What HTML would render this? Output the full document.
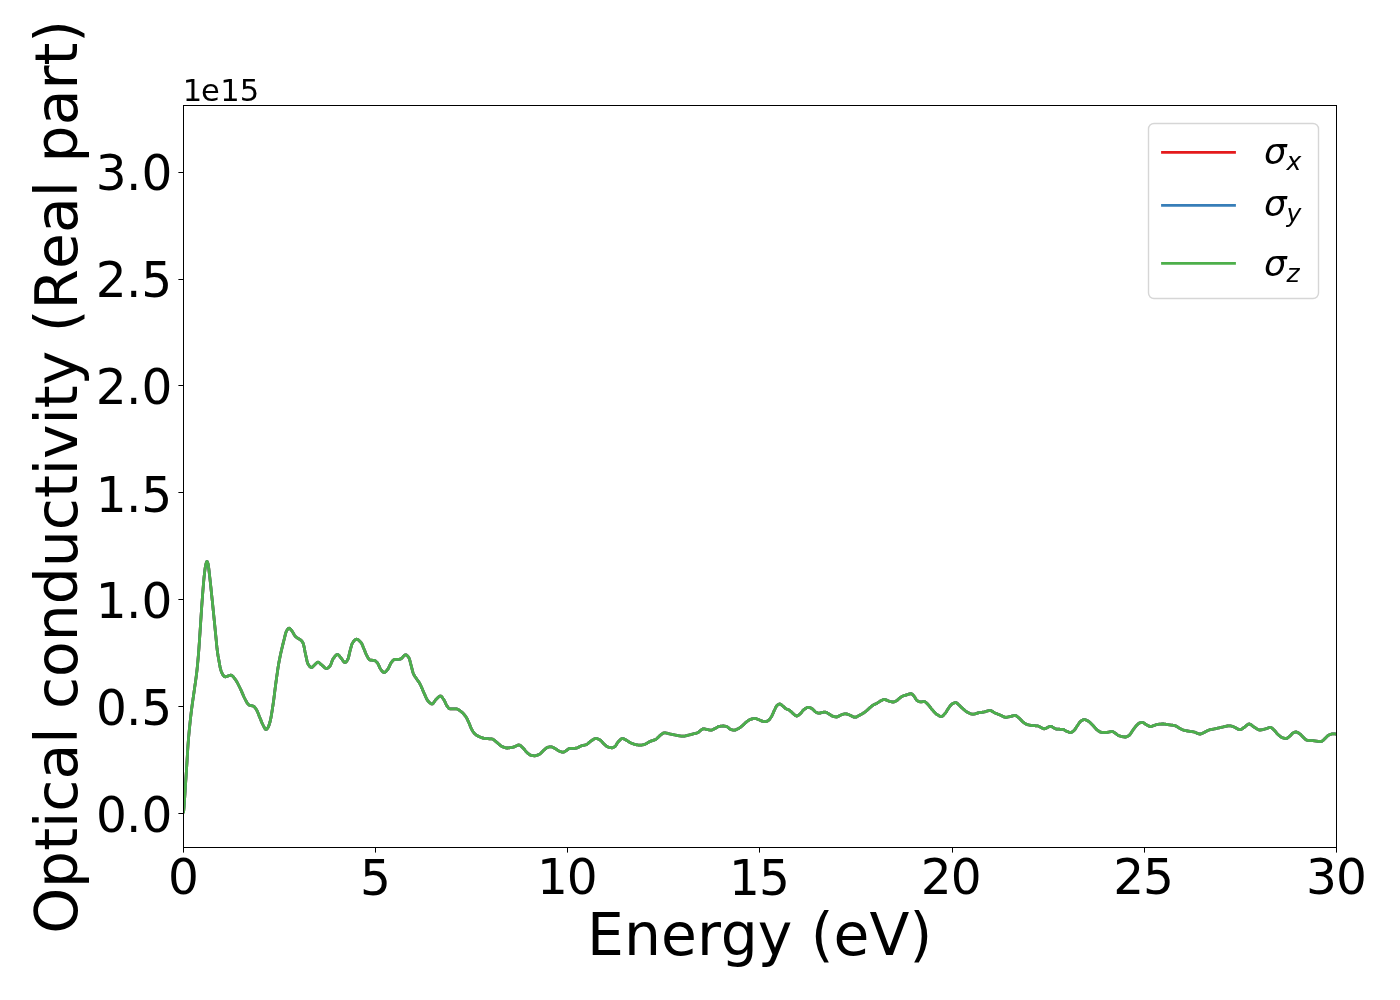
<!DOCTYPE html>
<html lang="en"><head><meta charset="utf-8"><title>Optical conductivity (Real part)</title>
<style>
html,body{margin:0;padding:0;background:#fff;}
body{width:1400px;height:1000px;overflow:hidden;}
svg{display:block;will-change:transform;}
text{font-family:"DejaVu Sans","Liberation Sans",sans-serif;fill:#000;font-kerning:none;white-space:pre;}
.tick{font-size:48.61px;}
.lab{font-size:58.33px;}
.off{font-size:30.56px;}
.leg{font-size:34.72px;font-style:italic;}
.sub{font-size:24.31px;font-style:italic;}
</style></head><body>
<svg width="1400" height="1000" viewBox="0 0 1400 1000">
<rect x="0" y="0" width="1400" height="1000" fill="#ffffff"/>
<defs><clipPath id="ax"><rect x="183.5" y="105.5" width="1153.0" height="742.0"/></clipPath></defs>
<g clip-path="url(#ax)" fill="none" stroke-width="2.78" stroke-linejoin="round" stroke-linecap="butt">
<path d="M183.5,813.0L184.0,807.5L184.5,800.8L185.0,793.0L185.5,785.0L186.0,777.4L186.5,769.7L187.0,761.7L187.5,752.9L188.0,745.0L188.5,738.7L189.0,733.1L189.5,728.0L190.0,723.1L190.5,718.4L191.0,714.1L191.5,710.0L192.0,706.2L192.5,702.5L193.0,699.1L193.5,695.6L194.0,692.2L194.5,688.6L195.0,685.1L195.5,681.6L196.0,678.1L196.5,674.2L197.0,670.0L197.5,665.2L198.0,659.7L198.5,653.8L199.0,647.3L199.5,640.0L200.0,632.6L200.5,624.9L201.0,617.3L201.5,609.8L202.0,602.7L202.5,596.0L203.0,589.5L203.5,583.3L204.0,577.8L204.5,573.3L205.0,569.2L205.5,565.8L206.0,563.7L206.5,562.1L207.0,561.4L207.5,562.1L208.0,563.6L208.5,566.2L209.0,570.5L209.5,575.0L210.0,579.3L210.5,583.9L211.0,588.5L211.5,593.3L212.0,598.1L212.5,602.9L213.0,607.8L213.5,612.8L214.0,617.8L214.5,622.8L215.0,627.9L215.5,633.0L216.0,638.0L216.5,643.1L217.0,648.3L217.5,652.2L218.0,655.5L218.5,658.3L219.0,661.1L219.5,664.0L220.0,666.6L220.5,668.9L221.0,670.6L221.5,672.0L222.0,673.2L222.5,674.2L223.0,675.0L223.5,675.6L224.0,676.2L224.5,676.6L225.0,676.8L225.5,676.8L226.0,676.7L226.5,676.5L227.0,676.3L227.5,676.2L228.0,676.0L228.5,675.8L229.0,675.7L229.5,675.5L230.0,675.3L230.5,675.2L231.0,675.2L231.5,675.3L232.0,675.6L232.5,676.0L233.0,676.5L233.5,677.1L234.0,677.7L234.5,678.4L235.0,679.0L235.5,679.7L236.0,680.4L236.5,681.2L237.0,682.1L237.5,683.0L238.0,684.0L238.5,685.0L239.0,686.0L239.5,687.0L240.0,688.0L240.5,689.0L241.0,690.1L241.5,691.2L242.0,692.4L242.5,693.6L243.0,694.7L243.5,695.9L244.0,697.0L244.5,698.0L245.0,699.0L245.5,700.0L246.0,700.9L246.5,701.8L247.0,702.7L247.5,703.4L248.0,704.0L248.5,704.5L249.0,704.9L249.5,705.3L250.0,705.5L250.5,705.6L251.0,705.7L251.5,705.7L252.0,705.8L252.5,705.9L253.0,706.0L253.5,706.2L254.0,706.6L254.5,707.1L255.0,707.7L255.5,708.3L256.0,709.0L256.5,709.8L257.0,710.7L257.5,711.8L258.0,713.0L258.5,714.3L259.0,715.6L259.5,716.8L260.0,718.0L260.5,719.2L261.0,720.4L261.5,721.7L262.0,722.9L262.5,724.0L263.0,725.0L263.5,726.0L264.0,727.0L264.5,727.9L265.0,728.7L265.5,729.3L266.0,729.5L266.5,729.3L267.0,728.9L267.5,728.2L268.0,727.5L268.5,726.6L269.0,725.3L269.5,723.7L270.0,722.0L270.5,719.9L271.0,717.4L271.5,714.6L272.0,711.5L272.5,708.3L273.0,705.0L273.5,701.5L274.0,697.7L274.5,693.7L275.0,689.7L275.5,685.7L276.0,682.0L276.5,678.4L277.0,674.9L277.5,671.4L278.0,668.0L278.5,664.9L279.0,662.0L279.5,659.4L280.0,656.9L280.5,654.5L281.0,652.3L281.5,650.1L282.0,648.0L282.5,645.9L283.0,643.9L283.5,641.9L284.0,640.0L284.5,638.0L285.0,635.9L285.5,633.9L286.0,632.2L286.5,631.0L287.0,630.2L287.5,629.4L288.0,628.8L288.5,628.4L289.0,628.2L289.5,628.3L290.0,628.7L290.5,629.2L291.0,629.7L291.5,630.4L292.0,631.0L292.5,631.7L293.0,632.6L293.5,633.5L294.0,634.5L294.5,635.3L295.0,636.0L295.5,636.5L296.0,637.0L296.5,637.4L297.0,637.7L297.5,638.1L298.0,638.4L298.5,638.7L299.0,638.9L299.5,639.2L300.0,639.5L300.5,639.9L301.0,640.3L301.5,640.8L302.0,641.4L302.5,642.1L303.0,643.0L303.5,644.4L304.0,646.5L304.5,649.1L305.0,651.7L305.5,654.0L306.0,656.2L306.5,658.6L307.0,660.9L307.5,662.8L308.0,664.0L308.5,664.8L309.0,665.5L309.5,666.2L310.0,666.7L310.5,667.1L311.0,667.4L311.5,667.5L312.0,667.4L312.5,667.1L313.0,666.6L313.5,666.1L314.0,665.5L314.5,665.0L315.0,664.5L315.5,664.0L316.0,663.5L316.5,663.0L317.0,662.6L317.5,662.3L318.0,662.2L318.5,662.3L319.0,662.6L319.5,663.0L320.0,663.4L320.5,663.9L321.0,664.4L321.5,664.8L322.0,665.2L322.5,665.7L323.0,666.1L323.5,666.6L324.0,667.1L324.5,667.6L325.0,667.9L325.5,668.2L326.0,668.4L326.5,668.5L327.0,668.4L327.5,668.2L328.0,667.9L328.5,667.5L329.0,667.1L329.5,666.5L330.0,666.0L330.5,665.2L331.0,664.0L331.5,662.6L332.0,661.2L332.5,659.9L333.0,659.0L333.5,658.3L334.0,657.6L334.5,656.9L335.0,656.2L335.5,655.7L336.0,655.2L336.5,654.8L337.0,654.6L337.5,654.5L338.0,654.6L338.5,655.0L339.0,655.5L339.5,656.1L340.0,656.8L340.5,657.4L341.0,658.0L341.5,658.6L342.0,659.3L342.5,660.0L343.0,660.8L343.5,661.4L344.0,662.0L344.5,662.4L345.0,662.5L345.5,662.4L346.0,662.0L346.5,661.5L347.0,660.7L347.5,659.9L348.0,659.0L348.5,657.6L349.0,655.4L349.5,653.1L350.0,651.0L350.5,649.1L351.0,647.3L351.5,645.5L352.0,644.0L352.5,643.0L353.0,642.3L353.5,641.5L354.0,640.9L354.5,640.3L355.0,639.9L355.5,639.5L356.0,639.3L356.5,639.2L357.0,639.3L357.5,639.4L358.0,639.7L358.5,640.0L359.0,640.4L359.5,640.9L360.0,641.4L360.5,641.9L361.0,642.5L361.5,643.2L362.0,644.2L362.5,645.3L363.0,646.6L363.5,647.8L364.0,649.0L364.5,650.2L365.0,651.4L365.5,652.7L366.0,653.9L366.5,655.0L367.0,656.0L367.5,656.9L368.0,657.7L368.5,658.6L369.0,659.2L369.5,659.7L370.0,660.0L370.5,660.1L371.0,660.2L371.5,660.2L372.0,660.2L372.5,660.3L373.0,660.3L373.5,660.3L374.0,660.4L374.5,660.5L375.0,660.7L375.5,661.0L376.0,661.4L376.5,661.9L377.0,662.4L377.5,663.0L378.0,663.8L378.5,664.8L379.0,665.9L379.5,667.1L380.0,668.2L380.5,669.0L381.0,669.7L381.5,670.4L382.0,671.0L382.5,671.6L383.0,672.1L383.5,672.4L384.0,672.5L384.5,672.4L385.0,672.2L385.5,671.8L386.0,671.4L386.5,670.8L387.0,670.2L387.5,669.6L388.0,669.0L388.5,668.2L389.0,667.2L389.5,666.0L390.0,664.9L390.5,663.8L391.0,663.0L391.5,662.3L392.0,661.6L392.5,661.0L393.0,660.4L393.5,660.0L394.0,659.7L394.5,659.5L395.0,659.5L395.5,659.4L396.0,659.4L396.5,659.4L397.0,659.4L397.5,659.3L398.0,659.3L398.5,659.3L399.0,659.3L399.5,659.2L400.0,659.2L400.5,659.1L401.0,658.8L401.5,658.4L402.0,657.9L402.5,657.4L403.0,656.8L403.5,656.3L404.0,655.8L404.5,655.3L405.0,655.0L405.5,654.8L406.0,654.8L406.5,655.0L407.0,655.4L407.5,655.9L408.0,656.5L408.5,657.2L409.0,658.0L409.5,659.2L410.0,661.0L410.5,663.1L411.0,665.0L411.5,666.9L412.0,668.9L412.5,670.9L413.0,672.6L413.5,674.0L414.0,675.0L414.5,675.8L415.0,676.6L415.5,677.3L416.0,678.0L416.5,678.8L417.0,679.5L417.5,680.2L418.0,680.9L418.5,681.6L419.0,682.3L419.5,683.1L420.0,684.0L420.5,685.0L421.0,686.0L421.5,687.2L422.0,688.3L422.5,689.5L423.0,690.7L423.5,691.9L424.0,693.0L424.5,694.1L425.0,695.2L425.5,696.4L426.0,697.5L426.5,698.6L427.0,699.5L427.5,700.4L428.0,701.0L428.5,701.5L429.0,702.1L429.5,702.6L430.0,703.0L430.5,703.4L431.0,703.7L431.5,703.9L432.0,704.0L432.5,703.9L433.0,703.5L433.5,702.9L434.0,702.2L434.5,701.5L435.0,700.7L435.5,700.0L436.0,699.5L436.5,699.0L437.0,698.5L437.5,698.0L438.0,697.5L438.5,697.0L439.0,696.6L439.5,696.3L440.0,696.1L440.5,696.0L441.0,696.1L441.5,696.5L442.0,697.0L442.5,697.7L443.0,698.5L443.5,699.2L444.0,700.0L444.5,700.9L445.0,701.9L445.5,703.1L446.0,704.2L446.5,705.2L447.0,706.0L447.5,706.6L448.0,707.3L448.5,707.9L449.0,708.4L449.5,708.7L450.0,708.8L450.5,708.8L451.0,708.8L451.5,708.8L452.0,708.8L452.5,708.8L453.0,708.8L453.5,708.8L454.0,708.8L454.5,708.8L455.0,708.8L455.5,708.8L456.0,708.8L456.5,708.8L457.0,709.0L457.5,709.2L458.0,709.4L458.5,709.7L459.0,710.0L459.5,710.4L460.0,710.8L460.5,711.1L461.0,711.5L461.5,711.9L462.0,712.3L462.5,712.8L463.0,713.3L463.5,713.8L464.0,714.4L464.5,715.0L465.0,715.6L465.5,716.3L466.0,717.0L466.5,717.8L467.0,718.7L467.5,719.7L468.0,720.8L468.5,721.9L469.0,723.0L469.5,724.1L470.0,725.4L470.5,726.7L471.0,727.9L471.5,729.0L472.0,730.0L472.5,730.8L473.0,731.6L473.5,732.3L474.0,733.0L474.5,733.5L475.0,734.0L475.5,734.4L476.0,734.8L476.5,735.2L477.0,735.5L477.5,735.8L478.0,736.1L478.5,736.3L479.0,736.6L479.5,736.8L480.0,737.0L480.5,737.2L481.0,737.4L481.5,737.6L482.0,737.8L482.5,737.9L483.0,738.1L483.5,738.2L484.0,738.3L484.5,738.4L485.0,738.5L485.5,738.6L486.0,738.6L486.5,738.6L487.0,738.7L487.5,738.7L488.0,738.7L488.5,738.7L489.0,738.8L489.5,738.8L490.0,738.8L490.5,738.8L491.0,738.9L491.5,738.9L492.0,739.0L492.5,739.1L493.0,739.3L493.5,739.6L494.0,740.0L494.5,740.4L495.0,740.8L495.5,741.2L496.0,741.7L496.5,742.1L497.0,742.5L497.5,742.9L498.0,743.3L498.5,743.8L499.0,744.2L499.5,744.7L500.0,745.1L500.5,745.6L501.0,745.9L501.5,746.2L502.0,746.5L502.5,746.7L503.0,746.9L503.5,747.1L504.0,747.3L504.5,747.5L505.0,747.7L505.5,747.8L506.0,747.9L506.5,748.0L507.0,748.0L507.5,748.0L508.0,748.0L508.5,747.9L509.0,747.9L509.5,747.8L510.0,747.7L510.5,747.7L511.0,747.6L511.5,747.5L512.0,747.4L512.5,747.3L513.0,747.2L513.5,747.1L514.0,746.9L514.5,746.7L515.0,746.5L515.5,746.2L516.0,746.0L516.5,745.7L517.0,745.5L517.5,745.3L518.0,745.1L518.5,745.0L519.0,745.0L519.5,745.1L520.0,745.3L520.5,745.6L521.0,746.1L521.5,746.5L522.0,747.0L522.5,747.5L523.0,748.0L523.5,748.5L524.0,749.0L524.5,749.6L525.0,750.3L525.5,750.9L526.0,751.5L526.5,752.0L527.0,752.5L527.5,752.9L528.0,753.4L528.5,753.8L529.0,754.2L529.5,754.6L530.0,754.9L530.5,755.1L531.0,755.3L531.5,755.4L532.0,755.5L532.5,755.6L533.0,755.7L533.5,755.7L534.0,755.8L534.5,755.8L535.0,755.8L535.5,755.7L536.0,755.6L536.5,755.5L537.0,755.3L537.5,755.1L538.0,754.9L538.5,754.7L539.0,754.5L539.5,754.2L540.0,753.9L540.5,753.5L541.0,753.0L541.5,752.5L542.0,751.9L542.5,751.4L543.0,750.9L543.5,750.4L544.0,750.0L544.5,749.6L545.0,749.2L545.5,748.7L546.0,748.3L546.5,747.9L547.0,747.6L547.5,747.4L548.0,747.2L548.5,747.1L549.0,747.0L549.5,746.9L550.0,746.9L550.5,746.8L551.0,746.8L551.5,746.8L552.0,747.0L552.5,747.2L553.0,747.4L553.5,747.7L554.0,747.9L554.5,748.2L555.0,748.5L555.5,748.8L556.0,749.1L556.5,749.4L557.0,749.8L557.5,750.1L558.0,750.5L558.5,750.8L559.0,751.0L559.5,751.2L560.0,751.4L560.5,751.6L561.0,751.8L561.5,752.0L562.0,752.1L562.5,752.2L563.0,752.2L563.5,752.1L564.0,752.0L564.5,751.7L565.0,751.4L565.5,751.1L566.0,750.8L566.5,750.5L567.0,750.1L567.5,749.7L568.0,749.3L568.5,748.9L569.0,748.6L569.5,748.5L570.0,748.5L570.5,748.4L571.0,748.4L571.5,748.4L572.0,748.4L572.5,748.3L573.0,748.3L573.5,748.3L574.0,748.3L574.5,748.3L575.0,748.3L575.5,748.2L576.0,748.2L576.5,748.1L577.0,748.0L577.5,747.8L578.0,747.5L578.5,747.3L579.0,747.0L579.5,746.7L580.0,746.4L580.5,746.2L581.0,746.0L581.5,745.8L582.0,745.7L582.5,745.6L583.0,745.5L583.5,745.4L584.0,745.2L584.5,745.1L585.0,745.0L585.5,744.9L586.0,744.7L586.5,744.5L587.0,744.2L587.5,743.9L588.0,743.5L588.5,743.1L589.0,742.6L589.5,742.2L590.0,741.7L590.5,741.3L591.0,741.0L591.5,740.7L592.0,740.3L592.5,740.0L593.0,739.7L593.5,739.4L594.0,739.1L594.5,738.8L595.0,738.7L595.5,738.5L596.0,738.5L596.5,738.5L597.0,738.6L597.5,738.8L598.0,739.0L598.5,739.2L599.0,739.5L599.5,739.7L600.0,740.0L600.5,740.3L601.0,740.8L601.5,741.3L602.0,741.8L602.5,742.4L603.0,743.0L603.5,743.5L604.0,744.0L604.5,744.4L605.0,744.9L605.5,745.3L606.0,745.8L606.5,746.2L607.0,746.5L607.5,746.8L608.0,747.0L608.5,747.2L609.0,747.3L609.5,747.4L610.0,747.6L610.5,747.7L611.0,747.7L611.5,747.8L612.0,747.8L612.5,747.8L613.0,747.6L613.5,747.4L614.0,747.1L614.5,746.8L615.0,746.5L615.5,746.0L616.0,745.3L616.5,744.4L617.0,743.5L617.5,742.7L618.0,742.0L618.5,741.5L619.0,740.9L619.5,740.4L620.0,739.9L620.5,739.4L621.0,739.1L621.5,738.8L622.0,738.6L622.5,738.5L623.0,738.6L623.5,738.7L624.0,738.9L624.5,739.2L625.0,739.4L625.5,739.7L626.0,740.0L626.5,740.3L627.0,740.6L627.5,740.9L628.0,741.2L628.5,741.5L629.0,741.9L629.5,742.2L630.0,742.5L630.5,742.8L631.0,743.0L631.5,743.2L632.0,743.4L632.5,743.6L633.0,743.8L633.5,744.0L634.0,744.2L634.5,744.3L635.0,744.5L635.5,744.6L636.0,744.7L636.5,744.8L637.0,744.9L637.5,744.9L638.0,745.0L638.5,745.1L639.0,745.1L639.5,745.2L640.0,745.2L640.5,745.2L641.0,745.2L641.5,745.1L642.0,745.0L642.5,744.9L643.0,744.8L643.5,744.7L644.0,744.5L644.5,744.4L645.0,744.2L645.5,744.0L646.0,743.8L646.5,743.5L647.0,743.2L647.5,742.9L648.0,742.6L648.5,742.3L649.0,742.0L649.5,741.7L650.0,741.5L650.5,741.3L651.0,741.1L651.5,740.9L652.0,740.8L652.5,740.6L653.0,740.4L653.5,740.3L654.0,740.1L654.5,739.9L655.0,739.7L655.5,739.5L656.0,739.2L656.5,738.9L657.0,738.4L657.5,738.0L658.0,737.4L658.5,736.9L659.0,736.4L659.5,735.9L660.0,735.5L660.5,735.1L661.0,734.7L661.5,734.3L662.0,733.9L662.5,733.6L663.0,733.3L663.5,733.0L664.0,732.9L664.5,732.8L665.0,732.8L665.5,732.9L666.0,733.0L666.5,733.1L667.0,733.2L667.5,733.3L668.0,733.5L668.5,733.6L669.0,733.8L669.5,733.9L670.0,734.0L670.5,734.1L671.0,734.2L671.5,734.3L672.0,734.4L672.5,734.5L673.0,734.6L673.5,734.7L674.0,734.8L674.5,734.9L675.0,735.0L675.5,735.1L676.0,735.2L676.5,735.3L677.0,735.4L677.5,735.5L678.0,735.6L678.5,735.7L679.0,735.8L679.5,735.8L680.0,735.9L680.5,736.0L681.0,736.1L681.5,736.1L682.0,736.2L682.5,736.2L683.0,736.2L683.5,736.2L684.0,736.1L684.5,736.1L685.0,736.0L685.5,735.9L686.0,735.8L686.5,735.6L687.0,735.5L687.5,735.4L688.0,735.2L688.5,735.1L689.0,735.0L689.5,734.9L690.0,734.8L690.5,734.6L691.0,734.5L691.5,734.4L692.0,734.2L692.5,734.1L693.0,734.0L693.5,733.8L694.0,733.7L694.5,733.6L695.0,733.5L695.5,733.4L696.0,733.3L696.5,733.1L697.0,733.0L697.5,732.8L698.0,732.5L698.5,732.2L699.0,731.7L699.5,731.3L700.0,730.9L700.5,730.5L701.0,730.1L701.5,729.8L702.0,729.4L702.5,729.1L703.0,728.9L703.5,728.8L704.0,728.8L704.5,728.9L705.0,729.0L705.5,729.1L706.0,729.3L706.5,729.4L707.0,729.5L707.5,729.6L708.0,729.7L708.5,729.8L709.0,729.9L709.5,730.0L710.0,730.1L710.5,730.2L711.0,730.2L711.5,730.2L712.0,730.0L712.5,729.8L713.0,729.6L713.5,729.3L714.0,729.0L714.5,728.7L715.0,728.5L715.5,728.2L716.0,728.0L716.5,727.7L717.0,727.4L717.5,727.1L718.0,726.8L718.5,726.6L719.0,726.5L719.5,726.4L720.0,726.3L720.5,726.2L721.0,726.2L721.5,726.1L722.0,726.1L722.5,726.0L723.0,726.0L723.5,726.0L724.0,726.0L724.5,726.1L725.0,726.2L725.5,726.3L726.0,726.5L726.5,726.6L727.0,726.8L727.5,727.0L728.0,727.4L728.5,727.8L729.0,728.3L729.5,728.7L730.0,729.0L730.5,729.3L731.0,729.5L731.5,729.7L732.0,729.8L732.5,730.0L733.0,730.1L733.5,730.2L734.0,730.2L734.5,730.2L735.0,730.1L735.5,729.9L736.0,729.7L736.5,729.5L737.0,729.3L737.5,729.0L738.0,728.8L738.5,728.5L739.0,728.2L739.5,727.9L740.0,727.6L740.5,727.2L741.0,726.8L741.5,726.4L742.0,726.0L742.5,725.6L743.0,725.1L743.5,724.7L744.0,724.2L744.5,723.7L745.0,723.2L745.5,722.7L746.0,722.3L746.5,721.9L747.0,721.5L747.5,721.1L748.0,720.8L748.5,720.5L749.0,720.1L749.5,719.8L750.0,719.6L750.5,719.4L751.0,719.2L751.5,719.1L752.0,718.9L752.5,718.8L753.0,718.7L753.5,718.6L754.0,718.6L754.5,718.5L755.0,718.5L755.5,718.5L756.0,718.6L756.5,718.8L757.0,719.0L757.5,719.2L758.0,719.4L758.5,719.6L759.0,719.8L759.5,720.0L760.0,720.2L760.5,720.4L761.0,720.7L761.5,720.9L762.0,721.1L762.5,721.2L763.0,721.3L763.5,721.4L764.0,721.5L764.5,721.6L765.0,721.7L765.5,721.7L766.0,721.6L766.5,721.5L767.0,721.3L767.5,721.0L768.0,720.6L768.5,720.3L769.0,719.9L769.5,719.4L770.0,718.7L770.5,718.0L771.0,717.3L771.5,716.5L772.0,715.6L772.5,714.5L773.0,713.4L773.5,712.2L774.0,711.1L774.5,710.0L775.0,709.0L775.5,707.9L776.0,706.9L776.5,706.1L777.0,705.5L777.5,705.1L778.0,704.7L778.5,704.4L779.0,704.1L779.5,704.0L780.0,704.0L780.5,704.2L781.0,704.5L781.5,704.9L782.0,705.3L782.5,705.8L783.0,706.2L783.5,706.6L784.0,707.1L784.5,707.6L785.0,708.1L785.5,708.5L786.0,708.8L786.5,709.0L787.0,709.2L787.5,709.4L788.0,709.6L788.5,709.8L789.0,710.0L789.5,710.3L790.0,710.7L790.5,711.2L791.0,711.6L791.5,712.1L792.0,712.6L792.5,713.1L793.0,713.5L793.5,713.9L794.0,714.3L794.5,714.8L795.0,715.2L795.5,715.5L796.0,715.8L796.5,716.0L797.0,716.0L797.5,715.8L798.0,715.6L798.5,715.2L799.0,714.8L799.5,714.4L800.0,714.0L800.5,713.5L801.0,713.0L801.5,712.4L802.0,711.7L802.5,711.0L803.0,710.4L803.5,709.9L804.0,709.5L804.5,709.2L805.0,708.8L805.5,708.5L806.0,708.2L806.5,707.9L807.0,707.6L807.5,707.5L808.0,707.3L808.5,707.3L809.0,707.3L809.5,707.5L810.0,707.7L810.5,707.9L811.0,708.1L811.5,708.4L812.0,708.7L812.5,709.0L813.0,709.5L813.5,710.0L814.0,710.5L814.5,711.0L815.0,711.5L815.5,711.9L816.0,712.2L816.5,712.4L817.0,712.7L817.5,712.9L818.0,713.0L818.5,713.2L819.0,713.2L819.5,713.2L820.0,713.1L820.5,712.9L821.0,712.8L821.5,712.6L822.0,712.5L822.5,712.4L823.0,712.3L823.5,712.2L824.0,712.2L824.5,712.1L825.0,712.1L825.5,712.2L826.0,712.3L826.5,712.5L827.0,712.8L827.5,713.1L828.0,713.4L828.5,713.7L829.0,714.0L829.5,714.3L830.0,714.6L830.5,714.9L831.0,715.3L831.5,715.6L832.0,715.9L832.5,716.1L833.0,716.3L833.5,716.4L834.0,716.6L834.5,716.7L835.0,716.8L835.5,716.9L836.0,717.0L836.5,717.0L837.0,716.9L837.5,716.8L838.0,716.6L838.5,716.3L839.0,716.0L839.5,715.7L840.0,715.5L840.5,715.2L841.0,715.0L841.5,714.8L842.0,714.6L842.5,714.5L843.0,714.3L843.5,714.1L844.0,714.0L844.5,713.9L845.0,713.8L845.5,713.8L846.0,713.8L846.5,713.9L847.0,714.1L847.5,714.2L848.0,714.4L848.5,714.6L849.0,714.8L849.5,715.0L850.0,715.2L850.5,715.4L851.0,715.7L851.5,715.9L852.0,716.2L852.5,716.5L853.0,716.7L853.5,716.9L854.0,717.1L854.5,717.2L855.0,717.2L855.5,717.2L856.0,717.1L856.5,716.9L857.0,716.7L857.5,716.4L858.0,716.1L858.5,715.8L859.0,715.6L859.5,715.3L860.0,715.0L860.5,714.7L861.0,714.5L861.5,714.2L862.0,713.9L862.5,713.6L863.0,713.3L863.5,713.0L864.0,712.7L864.5,712.4L865.0,712.0L865.5,711.6L866.0,711.2L866.5,710.8L867.0,710.3L867.5,709.9L868.0,709.4L868.5,708.9L869.0,708.5L869.5,708.1L870.0,707.6L870.5,707.2L871.0,706.7L871.5,706.3L872.0,705.9L872.5,705.5L873.0,705.2L873.5,704.9L874.0,704.6L874.5,704.4L875.0,704.2L875.5,703.9L876.0,703.7L876.5,703.5L877.0,703.2L877.5,702.9L878.0,702.6L878.5,702.2L879.0,701.9L879.5,701.6L880.0,701.2L880.5,700.9L881.0,700.7L881.5,700.5L882.0,700.2L882.5,700.0L883.0,699.8L883.5,699.6L884.0,699.5L884.5,699.5L885.0,699.5L885.5,699.7L886.0,699.9L886.5,700.1L887.0,700.3L887.5,700.6L888.0,700.8L888.5,701.0L889.0,701.2L889.5,701.3L890.0,701.5L890.5,701.6L891.0,701.7L891.5,701.8L892.0,701.9L892.5,702.0L893.0,702.0L893.5,702.0L894.0,701.9L894.5,701.7L895.0,701.5L895.5,701.3L896.0,701.0L896.5,700.8L897.0,700.5L897.5,700.1L898.0,699.6L898.5,699.1L899.0,698.7L899.5,698.2L900.0,697.8L900.5,697.5L901.0,697.1L901.5,696.8L902.0,696.5L902.5,696.2L903.0,696.0L903.5,695.8L904.0,695.6L904.5,695.5L905.0,695.3L905.5,695.2L906.0,695.1L906.5,694.9L907.0,694.8L907.5,694.6L908.0,694.5L908.5,694.3L909.0,694.1L909.5,693.9L910.0,693.8L910.5,693.7L911.0,693.7L911.5,693.8L912.0,694.1L912.5,694.6L913.0,695.1L913.5,695.6L914.0,696.2L914.5,696.8L915.0,697.6L915.5,698.5L916.0,699.3L916.5,700.0L917.0,700.5L917.5,700.8L918.0,701.1L918.5,701.4L919.0,701.6L919.5,701.7L920.0,701.8L920.5,701.8L921.0,701.8L921.5,701.8L922.0,701.8L922.5,701.7L923.0,701.7L923.5,701.7L924.0,701.7L924.5,701.7L925.0,701.8L925.5,702.1L926.0,702.4L926.5,702.9L927.0,703.4L927.5,704.0L928.0,704.5L928.5,705.0L929.0,705.6L929.5,706.3L930.0,706.9L930.5,707.6L931.0,708.3L931.5,708.9L932.0,709.5L932.5,710.1L933.0,710.6L933.5,711.2L934.0,711.8L934.5,712.3L935.0,712.8L935.5,713.3L936.0,713.8L936.5,714.2L937.0,714.5L937.5,714.8L938.0,715.1L938.5,715.4L939.0,715.7L939.5,716.0L940.0,716.2L940.5,716.4L941.0,716.5L941.5,716.5L942.0,716.4L942.5,716.1L943.0,715.7L943.5,715.2L944.0,714.6L944.5,714.1L945.0,713.5L945.5,712.9L946.0,712.2L946.5,711.4L947.0,710.6L947.5,709.8L948.0,709.0L948.5,708.2L949.0,707.5L949.5,706.8L950.0,706.1L950.5,705.5L951.0,704.9L951.5,704.4L952.0,704.0L952.5,703.7L953.0,703.4L953.5,703.2L954.0,703.0L954.5,702.8L955.0,702.7L955.5,702.6L956.0,702.6L956.5,702.8L957.0,703.2L957.5,703.6L958.0,704.1L958.5,704.6L959.0,705.0L959.5,705.4L960.0,705.9L960.5,706.4L961.0,706.9L961.5,707.4L962.0,707.9L962.5,708.3L963.0,708.8L963.5,709.2L964.0,709.7L964.5,710.1L965.0,710.6L965.5,711.0L966.0,711.4L966.5,711.7L967.0,712.0L967.5,712.3L968.0,712.5L968.5,712.8L969.0,713.0L969.5,713.3L970.0,713.5L970.5,713.7L971.0,713.9L971.5,714.0L972.0,714.1L972.5,714.2L973.0,714.2L973.5,714.2L974.0,714.1L974.5,714.0L975.0,713.9L975.5,713.7L976.0,713.6L976.5,713.4L977.0,713.2L977.5,713.1L978.0,712.9L978.5,712.8L979.0,712.7L979.5,712.6L980.0,712.5L980.5,712.5L981.0,712.4L981.5,712.4L982.0,712.3L982.5,712.2L983.0,712.2L983.5,712.1L984.0,712.0L984.5,711.9L985.0,711.8L985.5,711.6L986.0,711.5L986.5,711.3L987.0,711.1L987.5,711.0L988.0,710.8L988.5,710.7L989.0,710.6L989.5,710.5L990.0,710.5L990.5,710.6L991.0,710.7L991.5,710.9L992.0,711.2L992.5,711.5L993.0,711.8L993.5,712.1L994.0,712.5L994.5,712.8L995.0,713.0L995.5,713.2L996.0,713.4L996.5,713.6L997.0,713.8L997.5,714.0L998.0,714.2L998.5,714.4L999.0,714.6L999.5,714.8L1000.0,715.0L1000.5,715.2L1001.0,715.4L1001.5,715.7L1002.0,715.9L1002.5,716.2L1003.0,716.4L1003.5,716.7L1004.0,716.9L1004.5,717.1L1005.0,717.2L1005.5,717.3L1006.0,717.3L1006.5,717.3L1007.0,717.2L1007.5,717.1L1008.0,717.0L1008.5,716.9L1009.0,716.8L1009.5,716.7L1010.0,716.5L1010.5,716.4L1011.0,716.3L1011.5,716.2L1012.0,716.1L1012.5,715.9L1013.0,715.8L1013.5,715.7L1014.0,715.6L1014.5,715.5L1015.0,715.5L1015.5,715.6L1016.0,715.7L1016.5,716.0L1017.0,716.4L1017.5,716.8L1018.0,717.2L1018.5,717.6L1019.0,718.0L1019.5,718.4L1020.0,718.9L1020.5,719.4L1021.0,720.0L1021.5,720.6L1022.0,721.1L1022.5,721.6L1023.0,722.0L1023.5,722.4L1024.0,722.8L1024.5,723.1L1025.0,723.5L1025.5,723.8L1026.0,724.1L1026.5,724.3L1027.0,724.5L1027.5,724.6L1028.0,724.8L1028.5,724.9L1029.0,725.0L1029.5,725.1L1030.0,725.2L1030.5,725.3L1031.0,725.4L1031.5,725.4L1032.0,725.5L1032.5,725.6L1033.0,725.6L1033.5,725.6L1034.0,725.7L1034.5,725.7L1035.0,725.7L1035.5,725.8L1036.0,725.8L1036.5,725.8L1037.0,725.9L1037.5,725.9L1038.0,726.0L1038.5,726.1L1039.0,726.4L1039.5,726.6L1040.0,726.9L1040.5,727.2L1041.0,727.5L1041.5,727.8L1042.0,728.0L1042.5,728.3L1043.0,728.6L1043.5,728.7L1044.0,728.8L1044.5,728.8L1045.0,728.6L1045.5,728.4L1046.0,728.2L1046.5,728.0L1047.0,727.7L1047.5,727.5L1048.0,727.3L1048.5,727.0L1049.0,726.8L1049.5,726.5L1050.0,726.4L1050.5,726.3L1051.0,726.4L1051.5,726.5L1052.0,726.8L1052.5,727.1L1053.0,727.4L1053.5,727.7L1054.0,728.0L1054.5,728.2L1055.0,728.5L1055.5,728.7L1056.0,729.0L1056.5,729.1L1057.0,729.2L1057.5,729.2L1058.0,729.2L1058.5,729.2L1059.0,729.2L1059.5,729.2L1060.0,729.3L1060.5,729.3L1061.0,729.3L1061.5,729.3L1062.0,729.3L1062.5,729.3L1063.0,729.4L1063.5,729.5L1064.0,729.8L1064.5,730.1L1065.0,730.4L1065.5,730.7L1066.0,731.0L1066.5,731.2L1067.0,731.4L1067.5,731.6L1068.0,731.8L1068.5,732.0L1069.0,732.2L1069.5,732.4L1070.0,732.5L1070.5,732.5L1071.0,732.4L1071.5,732.3L1072.0,732.0L1072.5,731.7L1073.0,731.3L1073.5,730.9L1074.0,730.5L1074.5,730.0L1075.0,729.4L1075.5,728.6L1076.0,727.8L1076.5,727.0L1077.0,726.2L1077.5,725.5L1078.0,724.8L1078.5,724.0L1079.0,723.3L1079.5,722.6L1080.0,721.9L1080.5,721.4L1081.0,721.0L1081.5,720.7L1082.0,720.4L1082.5,720.1L1083.0,719.9L1083.5,719.7L1084.0,719.6L1084.5,719.6L1085.0,719.7L1085.5,719.8L1086.0,720.0L1086.5,720.2L1087.0,720.5L1087.5,720.7L1088.0,721.0L1088.5,721.3L1089.0,721.6L1089.5,722.0L1090.0,722.5L1090.5,723.0L1091.0,723.5L1091.5,724.0L1092.0,724.5L1092.5,725.0L1093.0,725.5L1093.5,726.0L1094.0,726.6L1094.5,727.2L1095.0,727.8L1095.5,728.3L1096.0,728.9L1096.5,729.4L1097.0,729.8L1097.5,730.2L1098.0,730.6L1098.5,731.0L1099.0,731.3L1099.5,731.6L1100.0,731.9L1100.5,732.1L1101.0,732.2L1101.5,732.3L1102.0,732.3L1102.5,732.3L1103.0,732.4L1103.5,732.4L1104.0,732.4L1104.5,732.5L1105.0,732.5L1105.5,732.5L1106.0,732.5L1106.5,732.5L1107.0,732.4L1107.5,732.3L1108.0,732.2L1108.5,732.1L1109.0,732.0L1109.5,731.9L1110.0,731.8L1110.5,731.7L1111.0,731.6L1111.5,731.5L1112.0,731.5L1112.5,731.6L1113.0,731.8L1113.5,732.0L1114.0,732.4L1114.5,732.7L1115.0,733.0L1115.5,733.3L1116.0,733.7L1116.5,734.1L1117.0,734.5L1117.5,734.9L1118.0,735.2L1118.5,735.5L1119.0,735.7L1119.5,735.9L1120.0,736.0L1120.5,736.2L1121.0,736.3L1121.5,736.4L1122.0,736.6L1122.5,736.7L1123.0,736.8L1123.5,736.8L1124.0,736.9L1124.5,737.0L1125.0,737.0L1125.5,737.0L1126.0,737.0L1126.5,736.8L1127.0,736.6L1127.5,736.4L1128.0,736.1L1128.5,735.8L1129.0,735.5L1129.5,735.1L1130.0,734.5L1130.5,733.8L1131.0,733.1L1131.5,732.3L1132.0,731.5L1132.5,730.7L1133.0,730.0L1133.5,729.3L1134.0,728.7L1134.5,728.0L1135.0,727.3L1135.5,726.7L1136.0,726.0L1136.5,725.5L1137.0,725.0L1137.5,724.5L1138.0,724.1L1138.5,723.6L1139.0,723.3L1139.5,723.0L1140.0,722.8L1140.5,722.7L1141.0,722.6L1141.5,722.6L1142.0,722.5L1142.5,722.5L1143.0,722.6L1143.5,722.8L1144.0,723.1L1144.5,723.5L1145.0,723.8L1145.5,724.2L1146.0,724.5L1146.5,724.8L1147.0,725.1L1147.5,725.4L1148.0,725.6L1148.5,725.9L1149.0,726.1L1149.5,726.3L1150.0,726.5L1150.5,726.5L1151.0,726.5L1151.5,726.4L1152.0,726.2L1152.5,726.0L1153.0,725.8L1153.5,725.7L1154.0,725.5L1154.5,725.3L1155.0,725.2L1155.5,725.0L1156.0,724.8L1156.5,724.6L1157.0,724.5L1157.5,724.4L1158.0,724.3L1158.5,724.3L1159.0,724.2L1159.5,724.2L1160.0,724.1L1160.5,724.1L1161.0,724.1L1161.5,724.0L1162.0,724.0L1162.5,724.0L1163.0,724.0L1163.5,724.0L1164.0,724.0L1164.5,724.1L1165.0,724.1L1165.5,724.2L1166.0,724.3L1166.5,724.4L1167.0,724.5L1167.5,724.6L1168.0,724.6L1168.5,724.7L1169.0,724.8L1169.5,724.9L1170.0,724.9L1170.5,725.0L1171.0,725.1L1171.5,725.1L1172.0,725.2L1172.5,725.2L1173.0,725.3L1173.5,725.4L1174.0,725.5L1174.5,725.6L1175.0,725.7L1175.5,725.9L1176.0,726.1L1176.5,726.3L1177.0,726.6L1177.5,726.9L1178.0,727.3L1178.5,727.6L1179.0,727.9L1179.5,728.2L1180.0,728.5L1180.5,728.8L1181.0,729.0L1181.5,729.3L1182.0,729.5L1182.5,729.8L1183.0,730.0L1183.5,730.1L1184.0,730.3L1184.5,730.4L1185.0,730.5L1185.5,730.6L1186.0,730.7L1186.5,730.8L1187.0,730.9L1187.5,731.0L1188.0,731.0L1188.5,731.1L1189.0,731.2L1189.5,731.3L1190.0,731.4L1190.5,731.4L1191.0,731.5L1191.5,731.6L1192.0,731.6L1192.5,731.7L1193.0,731.8L1193.5,731.9L1194.0,732.0L1194.5,732.1L1195.0,732.3L1195.5,732.5L1196.0,732.7L1196.5,732.9L1197.0,733.2L1197.5,733.4L1198.0,733.6L1198.5,733.7L1199.0,733.9L1199.5,734.0L1200.0,734.0L1200.5,734.0L1201.0,733.8L1201.5,733.7L1202.0,733.5L1202.5,733.2L1203.0,733.0L1203.5,732.7L1204.0,732.5L1204.5,732.3L1205.0,732.0L1205.5,731.7L1206.0,731.5L1206.5,731.2L1207.0,730.9L1207.5,730.6L1208.0,730.4L1208.5,730.2L1209.0,730.0L1209.5,729.9L1210.0,729.7L1210.5,729.6L1211.0,729.5L1211.5,729.4L1212.0,729.3L1212.5,729.3L1213.0,729.2L1213.5,729.1L1214.0,729.0L1214.5,728.9L1215.0,728.8L1215.5,728.7L1216.0,728.6L1216.5,728.5L1217.0,728.3L1217.5,728.2L1218.0,728.1L1218.5,728.0L1219.0,727.9L1219.5,727.8L1220.0,727.6L1220.5,727.5L1221.0,727.4L1221.5,727.3L1222.0,727.2L1222.5,727.1L1223.0,727.0L1223.5,726.9L1224.0,726.7L1224.5,726.6L1225.0,726.5L1225.5,726.4L1226.0,726.3L1226.5,726.1L1227.0,726.0L1227.5,726.0L1228.0,725.9L1228.5,725.8L1229.0,725.8L1229.5,725.8L1230.0,725.8L1230.5,725.9L1231.0,726.0L1231.5,726.1L1232.0,726.3L1232.5,726.5L1233.0,726.6L1233.5,726.8L1234.0,727.0L1234.5,727.2L1235.0,727.4L1235.5,727.7L1236.0,728.0L1236.5,728.3L1237.0,728.6L1237.5,728.9L1238.0,729.1L1238.5,729.4L1239.0,729.5L1239.5,729.7L1240.0,729.7L1240.5,729.6L1241.0,729.5L1241.5,729.2L1242.0,728.9L1242.5,728.5L1243.0,728.2L1243.5,727.8L1244.0,727.5L1244.5,727.2L1245.0,726.8L1245.5,726.3L1246.0,725.9L1246.5,725.4L1247.0,725.0L1247.5,724.7L1248.0,724.3L1248.5,724.1L1249.0,724.0L1249.5,724.0L1250.0,724.2L1250.5,724.4L1251.0,724.7L1251.5,725.1L1252.0,725.5L1252.5,725.9L1253.0,726.3L1253.5,726.7L1254.0,727.0L1254.5,727.3L1255.0,727.6L1255.5,727.9L1256.0,728.3L1256.5,728.6L1257.0,728.9L1257.5,729.2L1258.0,729.5L1258.5,729.7L1259.0,729.9L1259.5,730.0L1260.0,730.0L1260.5,730.0L1261.0,729.9L1261.5,729.9L1262.0,729.8L1262.5,729.6L1263.0,729.5L1263.5,729.4L1264.0,729.3L1264.5,729.1L1265.0,729.0L1265.5,728.9L1266.0,728.7L1266.5,728.5L1267.0,728.4L1267.5,728.2L1268.0,728.0L1268.5,727.8L1269.0,727.7L1269.5,727.6L1270.0,727.5L1270.5,727.5L1271.0,727.6L1271.5,727.8L1272.0,728.2L1272.5,728.6L1273.0,729.1L1273.5,729.5L1274.0,730.0L1274.5,730.5L1275.0,731.0L1275.5,731.6L1276.0,732.2L1276.5,732.9L1277.0,733.5L1277.5,734.0L1278.0,734.5L1278.5,735.0L1279.0,735.4L1279.5,735.8L1280.0,736.3L1280.5,736.6L1281.0,737.0L1281.5,737.3L1282.0,737.5L1282.5,737.7L1283.0,737.9L1283.5,738.0L1284.0,738.2L1284.5,738.3L1285.0,738.4L1285.5,738.5L1286.0,738.5L1286.5,738.4L1287.0,738.3L1287.5,738.0L1288.0,737.6L1288.5,737.2L1289.0,736.8L1289.5,736.4L1290.0,736.0L1290.5,735.5L1291.0,735.0L1291.5,734.4L1292.0,733.8L1292.5,733.3L1293.0,733.0L1293.5,732.8L1294.0,732.5L1294.5,732.3L1295.0,732.1L1295.5,732.0L1296.0,732.0L1296.5,732.0L1297.0,732.2L1297.5,732.4L1298.0,732.7L1298.5,733.0L1299.0,733.3L1299.5,733.7L1300.0,734.0L1300.5,734.4L1301.0,734.8L1301.5,735.4L1302.0,735.9L1302.5,736.5L1303.0,737.0L1303.5,737.5L1304.0,738.0L1304.5,738.4L1305.0,738.9L1305.5,739.4L1306.0,739.7L1306.5,740.0L1307.0,740.2L1307.5,740.3L1308.0,740.3L1308.5,740.4L1309.0,740.4L1309.5,740.5L1310.0,740.5L1310.5,740.5L1311.0,740.6L1311.5,740.6L1312.0,740.6L1312.5,740.7L1313.0,740.7L1313.5,740.7L1314.0,740.8L1314.5,740.9L1315.0,740.9L1315.5,741.0L1316.0,741.1L1316.5,741.1L1317.0,741.2L1317.5,741.3L1318.0,741.3L1318.5,741.4L1319.0,741.4L1319.5,741.4L1320.0,741.5L1320.5,741.5L1321.0,741.5L1321.5,741.4L1322.0,741.2L1322.5,740.8L1323.0,740.4L1323.5,739.9L1324.0,739.4L1324.5,738.9L1325.0,738.5L1325.5,738.1L1326.0,737.6L1326.5,737.1L1327.0,736.6L1327.5,736.1L1328.0,735.6L1328.5,735.3L1329.0,735.0L1329.5,734.8L1330.0,734.6L1330.5,734.4L1331.0,734.2L1331.5,734.0L1332.0,733.9L1332.5,733.8L1333.0,733.8L1333.5,733.8L1334.0,733.8L1334.5,733.8L1335.0,733.9L1335.5,734.0L1336.0,734.1L1336.5,734.2" stroke="#e41a1c"/>
<path d="M183.5,813.0L184.0,807.5L184.5,800.8L185.0,793.0L185.5,785.0L186.0,777.4L186.5,769.7L187.0,761.7L187.5,752.9L188.0,745.0L188.5,738.7L189.0,733.1L189.5,728.0L190.0,723.1L190.5,718.4L191.0,714.1L191.5,710.0L192.0,706.2L192.5,702.5L193.0,699.1L193.5,695.6L194.0,692.2L194.5,688.6L195.0,685.1L195.5,681.6L196.0,678.1L196.5,674.2L197.0,670.0L197.5,665.2L198.0,659.7L198.5,653.8L199.0,647.3L199.5,640.0L200.0,632.6L200.5,624.9L201.0,617.3L201.5,609.8L202.0,602.7L202.5,596.0L203.0,589.5L203.5,583.3L204.0,577.8L204.5,573.3L205.0,569.2L205.5,565.8L206.0,563.7L206.5,562.1L207.0,561.4L207.5,562.1L208.0,563.6L208.5,566.2L209.0,570.5L209.5,575.0L210.0,579.3L210.5,583.9L211.0,588.5L211.5,593.3L212.0,598.1L212.5,602.9L213.0,607.8L213.5,612.8L214.0,617.8L214.5,622.8L215.0,627.9L215.5,633.0L216.0,638.0L216.5,643.1L217.0,648.3L217.5,652.2L218.0,655.5L218.5,658.3L219.0,661.1L219.5,664.0L220.0,666.6L220.5,668.9L221.0,670.6L221.5,672.0L222.0,673.2L222.5,674.2L223.0,675.0L223.5,675.6L224.0,676.2L224.5,676.6L225.0,676.8L225.5,676.8L226.0,676.7L226.5,676.5L227.0,676.3L227.5,676.2L228.0,676.0L228.5,675.8L229.0,675.7L229.5,675.5L230.0,675.3L230.5,675.2L231.0,675.2L231.5,675.3L232.0,675.6L232.5,676.0L233.0,676.5L233.5,677.1L234.0,677.7L234.5,678.4L235.0,679.0L235.5,679.7L236.0,680.4L236.5,681.2L237.0,682.1L237.5,683.0L238.0,684.0L238.5,685.0L239.0,686.0L239.5,687.0L240.0,688.0L240.5,689.0L241.0,690.1L241.5,691.2L242.0,692.4L242.5,693.6L243.0,694.7L243.5,695.9L244.0,697.0L244.5,698.0L245.0,699.0L245.5,700.0L246.0,700.9L246.5,701.8L247.0,702.7L247.5,703.4L248.0,704.0L248.5,704.5L249.0,704.9L249.5,705.3L250.0,705.5L250.5,705.6L251.0,705.7L251.5,705.7L252.0,705.8L252.5,705.9L253.0,706.0L253.5,706.2L254.0,706.6L254.5,707.1L255.0,707.7L255.5,708.3L256.0,709.0L256.5,709.8L257.0,710.7L257.5,711.8L258.0,713.0L258.5,714.3L259.0,715.6L259.5,716.8L260.0,718.0L260.5,719.2L261.0,720.4L261.5,721.7L262.0,722.9L262.5,724.0L263.0,725.0L263.5,726.0L264.0,727.0L264.5,727.9L265.0,728.7L265.5,729.3L266.0,729.5L266.5,729.3L267.0,728.9L267.5,728.2L268.0,727.5L268.5,726.6L269.0,725.3L269.5,723.7L270.0,722.0L270.5,719.9L271.0,717.4L271.5,714.6L272.0,711.5L272.5,708.3L273.0,705.0L273.5,701.5L274.0,697.7L274.5,693.7L275.0,689.7L275.5,685.7L276.0,682.0L276.5,678.4L277.0,674.9L277.5,671.4L278.0,668.0L278.5,664.9L279.0,662.0L279.5,659.4L280.0,656.9L280.5,654.5L281.0,652.3L281.5,650.1L282.0,648.0L282.5,645.9L283.0,643.9L283.5,641.9L284.0,640.0L284.5,638.0L285.0,635.9L285.5,633.9L286.0,632.2L286.5,631.0L287.0,630.2L287.5,629.4L288.0,628.8L288.5,628.4L289.0,628.2L289.5,628.3L290.0,628.7L290.5,629.2L291.0,629.7L291.5,630.4L292.0,631.0L292.5,631.7L293.0,632.6L293.5,633.5L294.0,634.5L294.5,635.3L295.0,636.0L295.5,636.5L296.0,637.0L296.5,637.4L297.0,637.7L297.5,638.1L298.0,638.4L298.5,638.7L299.0,638.9L299.5,639.2L300.0,639.5L300.5,639.9L301.0,640.3L301.5,640.8L302.0,641.4L302.5,642.1L303.0,643.0L303.5,644.4L304.0,646.5L304.5,649.1L305.0,651.7L305.5,654.0L306.0,656.2L306.5,658.6L307.0,660.9L307.5,662.8L308.0,664.0L308.5,664.8L309.0,665.5L309.5,666.2L310.0,666.7L310.5,667.1L311.0,667.4L311.5,667.5L312.0,667.4L312.5,667.1L313.0,666.6L313.5,666.1L314.0,665.5L314.5,665.0L315.0,664.5L315.5,664.0L316.0,663.5L316.5,663.0L317.0,662.6L317.5,662.3L318.0,662.2L318.5,662.3L319.0,662.6L319.5,663.0L320.0,663.4L320.5,663.9L321.0,664.4L321.5,664.8L322.0,665.2L322.5,665.7L323.0,666.1L323.5,666.6L324.0,667.1L324.5,667.6L325.0,667.9L325.5,668.2L326.0,668.4L326.5,668.5L327.0,668.4L327.5,668.2L328.0,667.9L328.5,667.5L329.0,667.1L329.5,666.5L330.0,666.0L330.5,665.2L331.0,664.0L331.5,662.6L332.0,661.2L332.5,659.9L333.0,659.0L333.5,658.3L334.0,657.6L334.5,656.9L335.0,656.2L335.5,655.7L336.0,655.2L336.5,654.8L337.0,654.6L337.5,654.5L338.0,654.6L338.5,655.0L339.0,655.5L339.5,656.1L340.0,656.8L340.5,657.4L341.0,658.0L341.5,658.6L342.0,659.3L342.5,660.0L343.0,660.8L343.5,661.4L344.0,662.0L344.5,662.4L345.0,662.5L345.5,662.4L346.0,662.0L346.5,661.5L347.0,660.7L347.5,659.9L348.0,659.0L348.5,657.6L349.0,655.4L349.5,653.1L350.0,651.0L350.5,649.1L351.0,647.3L351.5,645.5L352.0,644.0L352.5,643.0L353.0,642.3L353.5,641.5L354.0,640.9L354.5,640.3L355.0,639.9L355.5,639.5L356.0,639.3L356.5,639.2L357.0,639.3L357.5,639.4L358.0,639.7L358.5,640.0L359.0,640.4L359.5,640.9L360.0,641.4L360.5,641.9L361.0,642.5L361.5,643.2L362.0,644.2L362.5,645.3L363.0,646.6L363.5,647.8L364.0,649.0L364.5,650.2L365.0,651.4L365.5,652.7L366.0,653.9L366.5,655.0L367.0,656.0L367.5,656.9L368.0,657.7L368.5,658.6L369.0,659.2L369.5,659.7L370.0,660.0L370.5,660.1L371.0,660.2L371.5,660.2L372.0,660.2L372.5,660.3L373.0,660.3L373.5,660.3L374.0,660.4L374.5,660.5L375.0,660.7L375.5,661.0L376.0,661.4L376.5,661.9L377.0,662.4L377.5,663.0L378.0,663.8L378.5,664.8L379.0,665.9L379.5,667.1L380.0,668.2L380.5,669.0L381.0,669.7L381.5,670.4L382.0,671.0L382.5,671.6L383.0,672.1L383.5,672.4L384.0,672.5L384.5,672.4L385.0,672.2L385.5,671.8L386.0,671.4L386.5,670.8L387.0,670.2L387.5,669.6L388.0,669.0L388.5,668.2L389.0,667.2L389.5,666.0L390.0,664.9L390.5,663.8L391.0,663.0L391.5,662.3L392.0,661.6L392.5,661.0L393.0,660.4L393.5,660.0L394.0,659.7L394.5,659.5L395.0,659.5L395.5,659.4L396.0,659.4L396.5,659.4L397.0,659.4L397.5,659.3L398.0,659.3L398.5,659.3L399.0,659.3L399.5,659.2L400.0,659.2L400.5,659.1L401.0,658.8L401.5,658.4L402.0,657.9L402.5,657.4L403.0,656.8L403.5,656.3L404.0,655.8L404.5,655.3L405.0,655.0L405.5,654.8L406.0,654.8L406.5,655.0L407.0,655.4L407.5,655.9L408.0,656.5L408.5,657.2L409.0,658.0L409.5,659.2L410.0,661.0L410.5,663.1L411.0,665.0L411.5,666.9L412.0,668.9L412.5,670.9L413.0,672.6L413.5,674.0L414.0,675.0L414.5,675.8L415.0,676.6L415.5,677.3L416.0,678.0L416.5,678.8L417.0,679.5L417.5,680.2L418.0,680.9L418.5,681.6L419.0,682.3L419.5,683.1L420.0,684.0L420.5,685.0L421.0,686.0L421.5,687.2L422.0,688.3L422.5,689.5L423.0,690.7L423.5,691.9L424.0,693.0L424.5,694.1L425.0,695.2L425.5,696.4L426.0,697.5L426.5,698.6L427.0,699.5L427.5,700.4L428.0,701.0L428.5,701.5L429.0,702.1L429.5,702.6L430.0,703.0L430.5,703.4L431.0,703.7L431.5,703.9L432.0,704.0L432.5,703.9L433.0,703.5L433.5,702.9L434.0,702.2L434.5,701.5L435.0,700.7L435.5,700.0L436.0,699.5L436.5,699.0L437.0,698.5L437.5,698.0L438.0,697.5L438.5,697.0L439.0,696.6L439.5,696.3L440.0,696.1L440.5,696.0L441.0,696.1L441.5,696.5L442.0,697.0L442.5,697.7L443.0,698.5L443.5,699.2L444.0,700.0L444.5,700.9L445.0,701.9L445.5,703.1L446.0,704.2L446.5,705.2L447.0,706.0L447.5,706.6L448.0,707.3L448.5,707.9L449.0,708.4L449.5,708.7L450.0,708.8L450.5,708.8L451.0,708.8L451.5,708.8L452.0,708.8L452.5,708.8L453.0,708.8L453.5,708.8L454.0,708.8L454.5,708.8L455.0,708.8L455.5,708.8L456.0,708.8L456.5,708.8L457.0,709.0L457.5,709.2L458.0,709.4L458.5,709.7L459.0,710.0L459.5,710.4L460.0,710.8L460.5,711.1L461.0,711.5L461.5,711.9L462.0,712.3L462.5,712.8L463.0,713.3L463.5,713.8L464.0,714.4L464.5,715.0L465.0,715.6L465.5,716.3L466.0,717.0L466.5,717.8L467.0,718.7L467.5,719.7L468.0,720.8L468.5,721.9L469.0,723.0L469.5,724.1L470.0,725.4L470.5,726.7L471.0,727.9L471.5,729.0L472.0,730.0L472.5,730.8L473.0,731.6L473.5,732.3L474.0,733.0L474.5,733.5L475.0,734.0L475.5,734.4L476.0,734.8L476.5,735.2L477.0,735.5L477.5,735.8L478.0,736.1L478.5,736.3L479.0,736.6L479.5,736.8L480.0,737.0L480.5,737.2L481.0,737.4L481.5,737.6L482.0,737.8L482.5,737.9L483.0,738.1L483.5,738.2L484.0,738.3L484.5,738.4L485.0,738.5L485.5,738.6L486.0,738.6L486.5,738.6L487.0,738.7L487.5,738.7L488.0,738.7L488.5,738.7L489.0,738.8L489.5,738.8L490.0,738.8L490.5,738.8L491.0,738.9L491.5,738.9L492.0,739.0L492.5,739.1L493.0,739.3L493.5,739.6L494.0,740.0L494.5,740.4L495.0,740.8L495.5,741.2L496.0,741.7L496.5,742.1L497.0,742.5L497.5,742.9L498.0,743.3L498.5,743.8L499.0,744.2L499.5,744.7L500.0,745.1L500.5,745.6L501.0,745.9L501.5,746.2L502.0,746.5L502.5,746.7L503.0,746.9L503.5,747.1L504.0,747.3L504.5,747.5L505.0,747.7L505.5,747.8L506.0,747.9L506.5,748.0L507.0,748.0L507.5,748.0L508.0,748.0L508.5,747.9L509.0,747.9L509.5,747.8L510.0,747.7L510.5,747.7L511.0,747.6L511.5,747.5L512.0,747.4L512.5,747.3L513.0,747.2L513.5,747.1L514.0,746.9L514.5,746.7L515.0,746.5L515.5,746.2L516.0,746.0L516.5,745.7L517.0,745.5L517.5,745.3L518.0,745.1L518.5,745.0L519.0,745.0L519.5,745.1L520.0,745.3L520.5,745.6L521.0,746.1L521.5,746.5L522.0,747.0L522.5,747.5L523.0,748.0L523.5,748.5L524.0,749.0L524.5,749.6L525.0,750.3L525.5,750.9L526.0,751.5L526.5,752.0L527.0,752.5L527.5,752.9L528.0,753.4L528.5,753.8L529.0,754.2L529.5,754.6L530.0,754.9L530.5,755.1L531.0,755.3L531.5,755.4L532.0,755.5L532.5,755.6L533.0,755.7L533.5,755.7L534.0,755.8L534.5,755.8L535.0,755.8L535.5,755.7L536.0,755.6L536.5,755.5L537.0,755.3L537.5,755.1L538.0,754.9L538.5,754.7L539.0,754.5L539.5,754.2L540.0,753.9L540.5,753.5L541.0,753.0L541.5,752.5L542.0,751.9L542.5,751.4L543.0,750.9L543.5,750.4L544.0,750.0L544.5,749.6L545.0,749.2L545.5,748.7L546.0,748.3L546.5,747.9L547.0,747.6L547.5,747.4L548.0,747.2L548.5,747.1L549.0,747.0L549.5,746.9L550.0,746.9L550.5,746.8L551.0,746.8L551.5,746.8L552.0,747.0L552.5,747.2L553.0,747.4L553.5,747.7L554.0,747.9L554.5,748.2L555.0,748.5L555.5,748.8L556.0,749.1L556.5,749.4L557.0,749.8L557.5,750.1L558.0,750.5L558.5,750.8L559.0,751.0L559.5,751.2L560.0,751.4L560.5,751.6L561.0,751.8L561.5,752.0L562.0,752.1L562.5,752.2L563.0,752.2L563.5,752.1L564.0,752.0L564.5,751.7L565.0,751.4L565.5,751.1L566.0,750.8L566.5,750.5L567.0,750.1L567.5,749.7L568.0,749.3L568.5,748.9L569.0,748.6L569.5,748.5L570.0,748.5L570.5,748.4L571.0,748.4L571.5,748.4L572.0,748.4L572.5,748.3L573.0,748.3L573.5,748.3L574.0,748.3L574.5,748.3L575.0,748.3L575.5,748.2L576.0,748.2L576.5,748.1L577.0,748.0L577.5,747.8L578.0,747.5L578.5,747.3L579.0,747.0L579.5,746.7L580.0,746.4L580.5,746.2L581.0,746.0L581.5,745.8L582.0,745.7L582.5,745.6L583.0,745.5L583.5,745.4L584.0,745.2L584.5,745.1L585.0,745.0L585.5,744.9L586.0,744.7L586.5,744.5L587.0,744.2L587.5,743.9L588.0,743.5L588.5,743.1L589.0,742.6L589.5,742.2L590.0,741.7L590.5,741.3L591.0,741.0L591.5,740.7L592.0,740.3L592.5,740.0L593.0,739.7L593.5,739.4L594.0,739.1L594.5,738.8L595.0,738.7L595.5,738.5L596.0,738.5L596.5,738.5L597.0,738.6L597.5,738.8L598.0,739.0L598.5,739.2L599.0,739.5L599.5,739.7L600.0,740.0L600.5,740.3L601.0,740.8L601.5,741.3L602.0,741.8L602.5,742.4L603.0,743.0L603.5,743.5L604.0,744.0L604.5,744.4L605.0,744.9L605.5,745.3L606.0,745.8L606.5,746.2L607.0,746.5L607.5,746.8L608.0,747.0L608.5,747.2L609.0,747.3L609.5,747.4L610.0,747.6L610.5,747.7L611.0,747.7L611.5,747.8L612.0,747.8L612.5,747.8L613.0,747.6L613.5,747.4L614.0,747.1L614.5,746.8L615.0,746.5L615.5,746.0L616.0,745.3L616.5,744.4L617.0,743.5L617.5,742.7L618.0,742.0L618.5,741.5L619.0,740.9L619.5,740.4L620.0,739.9L620.5,739.4L621.0,739.1L621.5,738.8L622.0,738.6L622.5,738.5L623.0,738.6L623.5,738.7L624.0,738.9L624.5,739.2L625.0,739.4L625.5,739.7L626.0,740.0L626.5,740.3L627.0,740.6L627.5,740.9L628.0,741.2L628.5,741.5L629.0,741.9L629.5,742.2L630.0,742.5L630.5,742.8L631.0,743.0L631.5,743.2L632.0,743.4L632.5,743.6L633.0,743.8L633.5,744.0L634.0,744.2L634.5,744.3L635.0,744.5L635.5,744.6L636.0,744.7L636.5,744.8L637.0,744.9L637.5,744.9L638.0,745.0L638.5,745.1L639.0,745.1L639.5,745.2L640.0,745.2L640.5,745.2L641.0,745.2L641.5,745.1L642.0,745.0L642.5,744.9L643.0,744.8L643.5,744.7L644.0,744.5L644.5,744.4L645.0,744.2L645.5,744.0L646.0,743.8L646.5,743.5L647.0,743.2L647.5,742.9L648.0,742.6L648.5,742.3L649.0,742.0L649.5,741.7L650.0,741.5L650.5,741.3L651.0,741.1L651.5,740.9L652.0,740.8L652.5,740.6L653.0,740.4L653.5,740.3L654.0,740.1L654.5,739.9L655.0,739.7L655.5,739.5L656.0,739.2L656.5,738.9L657.0,738.4L657.5,738.0L658.0,737.4L658.5,736.9L659.0,736.4L659.5,735.9L660.0,735.5L660.5,735.1L661.0,734.7L661.5,734.3L662.0,733.9L662.5,733.6L663.0,733.3L663.5,733.0L664.0,732.9L664.5,732.8L665.0,732.8L665.5,732.9L666.0,733.0L666.5,733.1L667.0,733.2L667.5,733.3L668.0,733.5L668.5,733.6L669.0,733.8L669.5,733.9L670.0,734.0L670.5,734.1L671.0,734.2L671.5,734.3L672.0,734.4L672.5,734.5L673.0,734.6L673.5,734.7L674.0,734.8L674.5,734.9L675.0,735.0L675.5,735.1L676.0,735.2L676.5,735.3L677.0,735.4L677.5,735.5L678.0,735.6L678.5,735.7L679.0,735.8L679.5,735.8L680.0,735.9L680.5,736.0L681.0,736.1L681.5,736.1L682.0,736.2L682.5,736.2L683.0,736.2L683.5,736.2L684.0,736.1L684.5,736.1L685.0,736.0L685.5,735.9L686.0,735.8L686.5,735.6L687.0,735.5L687.5,735.4L688.0,735.2L688.5,735.1L689.0,735.0L689.5,734.9L690.0,734.8L690.5,734.6L691.0,734.5L691.5,734.4L692.0,734.2L692.5,734.1L693.0,734.0L693.5,733.8L694.0,733.7L694.5,733.6L695.0,733.5L695.5,733.4L696.0,733.3L696.5,733.1L697.0,733.0L697.5,732.8L698.0,732.5L698.5,732.2L699.0,731.7L699.5,731.3L700.0,730.9L700.5,730.5L701.0,730.1L701.5,729.8L702.0,729.4L702.5,729.1L703.0,728.9L703.5,728.8L704.0,728.8L704.5,728.9L705.0,729.0L705.5,729.1L706.0,729.3L706.5,729.4L707.0,729.5L707.5,729.6L708.0,729.7L708.5,729.8L709.0,729.9L709.5,730.0L710.0,730.1L710.5,730.2L711.0,730.2L711.5,730.2L712.0,730.0L712.5,729.8L713.0,729.6L713.5,729.3L714.0,729.0L714.5,728.7L715.0,728.5L715.5,728.2L716.0,728.0L716.5,727.7L717.0,727.4L717.5,727.1L718.0,726.8L718.5,726.6L719.0,726.5L719.5,726.4L720.0,726.3L720.5,726.2L721.0,726.2L721.5,726.1L722.0,726.1L722.5,726.0L723.0,726.0L723.5,726.0L724.0,726.0L724.5,726.1L725.0,726.2L725.5,726.3L726.0,726.5L726.5,726.6L727.0,726.8L727.5,727.0L728.0,727.4L728.5,727.8L729.0,728.3L729.5,728.7L730.0,729.0L730.5,729.3L731.0,729.5L731.5,729.7L732.0,729.8L732.5,730.0L733.0,730.1L733.5,730.2L734.0,730.2L734.5,730.2L735.0,730.1L735.5,729.9L736.0,729.7L736.5,729.5L737.0,729.3L737.5,729.0L738.0,728.8L738.5,728.5L739.0,728.2L739.5,727.9L740.0,727.6L740.5,727.2L741.0,726.8L741.5,726.4L742.0,726.0L742.5,725.6L743.0,725.1L743.5,724.7L744.0,724.2L744.5,723.7L745.0,723.2L745.5,722.7L746.0,722.3L746.5,721.9L747.0,721.5L747.5,721.1L748.0,720.8L748.5,720.5L749.0,720.1L749.5,719.8L750.0,719.6L750.5,719.4L751.0,719.2L751.5,719.1L752.0,718.9L752.5,718.8L753.0,718.7L753.5,718.6L754.0,718.6L754.5,718.5L755.0,718.5L755.5,718.5L756.0,718.6L756.5,718.8L757.0,719.0L757.5,719.2L758.0,719.4L758.5,719.6L759.0,719.8L759.5,720.0L760.0,720.2L760.5,720.4L761.0,720.7L761.5,720.9L762.0,721.1L762.5,721.2L763.0,721.3L763.5,721.4L764.0,721.5L764.5,721.6L765.0,721.7L765.5,721.7L766.0,721.6L766.5,721.5L767.0,721.3L767.5,721.0L768.0,720.6L768.5,720.3L769.0,719.9L769.5,719.4L770.0,718.7L770.5,718.0L771.0,717.3L771.5,716.5L772.0,715.6L772.5,714.5L773.0,713.4L773.5,712.2L774.0,711.1L774.5,710.0L775.0,709.0L775.5,707.9L776.0,706.9L776.5,706.1L777.0,705.5L777.5,705.1L778.0,704.7L778.5,704.4L779.0,704.1L779.5,704.0L780.0,704.0L780.5,704.2L781.0,704.5L781.5,704.9L782.0,705.3L782.5,705.8L783.0,706.2L783.5,706.6L784.0,707.1L784.5,707.6L785.0,708.1L785.5,708.5L786.0,708.8L786.5,709.0L787.0,709.2L787.5,709.4L788.0,709.6L788.5,709.8L789.0,710.0L789.5,710.3L790.0,710.7L790.5,711.2L791.0,711.6L791.5,712.1L792.0,712.6L792.5,713.1L793.0,713.5L793.5,713.9L794.0,714.3L794.5,714.8L795.0,715.2L795.5,715.5L796.0,715.8L796.5,716.0L797.0,716.0L797.5,715.8L798.0,715.6L798.5,715.2L799.0,714.8L799.5,714.4L800.0,714.0L800.5,713.5L801.0,713.0L801.5,712.4L802.0,711.7L802.5,711.0L803.0,710.4L803.5,709.9L804.0,709.5L804.5,709.2L805.0,708.8L805.5,708.5L806.0,708.2L806.5,707.9L807.0,707.6L807.5,707.5L808.0,707.3L808.5,707.3L809.0,707.3L809.5,707.5L810.0,707.7L810.5,707.9L811.0,708.1L811.5,708.4L812.0,708.7L812.5,709.0L813.0,709.5L813.5,710.0L814.0,710.5L814.5,711.0L815.0,711.5L815.5,711.9L816.0,712.2L816.5,712.4L817.0,712.7L817.5,712.9L818.0,713.0L818.5,713.2L819.0,713.2L819.5,713.2L820.0,713.1L820.5,712.9L821.0,712.8L821.5,712.6L822.0,712.5L822.5,712.4L823.0,712.3L823.5,712.2L824.0,712.2L824.5,712.1L825.0,712.1L825.5,712.2L826.0,712.3L826.5,712.5L827.0,712.8L827.5,713.1L828.0,713.4L828.5,713.7L829.0,714.0L829.5,714.3L830.0,714.6L830.5,714.9L831.0,715.3L831.5,715.6L832.0,715.9L832.5,716.1L833.0,716.3L833.5,716.4L834.0,716.6L834.5,716.7L835.0,716.8L835.5,716.9L836.0,717.0L836.5,717.0L837.0,716.9L837.5,716.8L838.0,716.6L838.5,716.3L839.0,716.0L839.5,715.7L840.0,715.5L840.5,715.2L841.0,715.0L841.5,714.8L842.0,714.6L842.5,714.5L843.0,714.3L843.5,714.1L844.0,714.0L844.5,713.9L845.0,713.8L845.5,713.8L846.0,713.8L846.5,713.9L847.0,714.1L847.5,714.2L848.0,714.4L848.5,714.6L849.0,714.8L849.5,715.0L850.0,715.2L850.5,715.4L851.0,715.7L851.5,715.9L852.0,716.2L852.5,716.5L853.0,716.7L853.5,716.9L854.0,717.1L854.5,717.2L855.0,717.2L855.5,717.2L856.0,717.1L856.5,716.9L857.0,716.7L857.5,716.4L858.0,716.1L858.5,715.8L859.0,715.6L859.5,715.3L860.0,715.0L860.5,714.7L861.0,714.5L861.5,714.2L862.0,713.9L862.5,713.6L863.0,713.3L863.5,713.0L864.0,712.7L864.5,712.4L865.0,712.0L865.5,711.6L866.0,711.2L866.5,710.8L867.0,710.3L867.5,709.9L868.0,709.4L868.5,708.9L869.0,708.5L869.5,708.1L870.0,707.6L870.5,707.2L871.0,706.7L871.5,706.3L872.0,705.9L872.5,705.5L873.0,705.2L873.5,704.9L874.0,704.6L874.5,704.4L875.0,704.2L875.5,703.9L876.0,703.7L876.5,703.5L877.0,703.2L877.5,702.9L878.0,702.6L878.5,702.2L879.0,701.9L879.5,701.6L880.0,701.2L880.5,700.9L881.0,700.7L881.5,700.5L882.0,700.2L882.5,700.0L883.0,699.8L883.5,699.6L884.0,699.5L884.5,699.5L885.0,699.5L885.5,699.7L886.0,699.9L886.5,700.1L887.0,700.3L887.5,700.6L888.0,700.8L888.5,701.0L889.0,701.2L889.5,701.3L890.0,701.5L890.5,701.6L891.0,701.7L891.5,701.8L892.0,701.9L892.5,702.0L893.0,702.0L893.5,702.0L894.0,701.9L894.5,701.7L895.0,701.5L895.5,701.3L896.0,701.0L896.5,700.8L897.0,700.5L897.5,700.1L898.0,699.6L898.5,699.1L899.0,698.7L899.5,698.2L900.0,697.8L900.5,697.5L901.0,697.1L901.5,696.8L902.0,696.5L902.5,696.2L903.0,696.0L903.5,695.8L904.0,695.6L904.5,695.5L905.0,695.3L905.5,695.2L906.0,695.1L906.5,694.9L907.0,694.8L907.5,694.6L908.0,694.5L908.5,694.3L909.0,694.1L909.5,693.9L910.0,693.8L910.5,693.7L911.0,693.7L911.5,693.8L912.0,694.1L912.5,694.6L913.0,695.1L913.5,695.6L914.0,696.2L914.5,696.8L915.0,697.6L915.5,698.5L916.0,699.3L916.5,700.0L917.0,700.5L917.5,700.8L918.0,701.1L918.5,701.4L919.0,701.6L919.5,701.7L920.0,701.8L920.5,701.8L921.0,701.8L921.5,701.8L922.0,701.8L922.5,701.7L923.0,701.7L923.5,701.7L924.0,701.7L924.5,701.7L925.0,701.8L925.5,702.1L926.0,702.4L926.5,702.9L927.0,703.4L927.5,704.0L928.0,704.5L928.5,705.0L929.0,705.6L929.5,706.3L930.0,706.9L930.5,707.6L931.0,708.3L931.5,708.9L932.0,709.5L932.5,710.1L933.0,710.6L933.5,711.2L934.0,711.8L934.5,712.3L935.0,712.8L935.5,713.3L936.0,713.8L936.5,714.2L937.0,714.5L937.5,714.8L938.0,715.1L938.5,715.4L939.0,715.7L939.5,716.0L940.0,716.2L940.5,716.4L941.0,716.5L941.5,716.5L942.0,716.4L942.5,716.1L943.0,715.7L943.5,715.2L944.0,714.6L944.5,714.1L945.0,713.5L945.5,712.9L946.0,712.2L946.5,711.4L947.0,710.6L947.5,709.8L948.0,709.0L948.5,708.2L949.0,707.5L949.5,706.8L950.0,706.1L950.5,705.5L951.0,704.9L951.5,704.4L952.0,704.0L952.5,703.7L953.0,703.4L953.5,703.2L954.0,703.0L954.5,702.8L955.0,702.7L955.5,702.6L956.0,702.6L956.5,702.8L957.0,703.2L957.5,703.6L958.0,704.1L958.5,704.6L959.0,705.0L959.5,705.4L960.0,705.9L960.5,706.4L961.0,706.9L961.5,707.4L962.0,707.9L962.5,708.3L963.0,708.8L963.5,709.2L964.0,709.7L964.5,710.1L965.0,710.6L965.5,711.0L966.0,711.4L966.5,711.7L967.0,712.0L967.5,712.3L968.0,712.5L968.5,712.8L969.0,713.0L969.5,713.3L970.0,713.5L970.5,713.7L971.0,713.9L971.5,714.0L972.0,714.1L972.5,714.2L973.0,714.2L973.5,714.2L974.0,714.1L974.5,714.0L975.0,713.9L975.5,713.7L976.0,713.6L976.5,713.4L977.0,713.2L977.5,713.1L978.0,712.9L978.5,712.8L979.0,712.7L979.5,712.6L980.0,712.5L980.5,712.5L981.0,712.4L981.5,712.4L982.0,712.3L982.5,712.2L983.0,712.2L983.5,712.1L984.0,712.0L984.5,711.9L985.0,711.8L985.5,711.6L986.0,711.5L986.5,711.3L987.0,711.1L987.5,711.0L988.0,710.8L988.5,710.7L989.0,710.6L989.5,710.5L990.0,710.5L990.5,710.6L991.0,710.7L991.5,710.9L992.0,711.2L992.5,711.5L993.0,711.8L993.5,712.1L994.0,712.5L994.5,712.8L995.0,713.0L995.5,713.2L996.0,713.4L996.5,713.6L997.0,713.8L997.5,714.0L998.0,714.2L998.5,714.4L999.0,714.6L999.5,714.8L1000.0,715.0L1000.5,715.2L1001.0,715.4L1001.5,715.7L1002.0,715.9L1002.5,716.2L1003.0,716.4L1003.5,716.7L1004.0,716.9L1004.5,717.1L1005.0,717.2L1005.5,717.3L1006.0,717.3L1006.5,717.3L1007.0,717.2L1007.5,717.1L1008.0,717.0L1008.5,716.9L1009.0,716.8L1009.5,716.7L1010.0,716.5L1010.5,716.4L1011.0,716.3L1011.5,716.2L1012.0,716.1L1012.5,715.9L1013.0,715.8L1013.5,715.7L1014.0,715.6L1014.5,715.5L1015.0,715.5L1015.5,715.6L1016.0,715.7L1016.5,716.0L1017.0,716.4L1017.5,716.8L1018.0,717.2L1018.5,717.6L1019.0,718.0L1019.5,718.4L1020.0,718.9L1020.5,719.4L1021.0,720.0L1021.5,720.6L1022.0,721.1L1022.5,721.6L1023.0,722.0L1023.5,722.4L1024.0,722.8L1024.5,723.1L1025.0,723.5L1025.5,723.8L1026.0,724.1L1026.5,724.3L1027.0,724.5L1027.5,724.6L1028.0,724.8L1028.5,724.9L1029.0,725.0L1029.5,725.1L1030.0,725.2L1030.5,725.3L1031.0,725.4L1031.5,725.4L1032.0,725.5L1032.5,725.6L1033.0,725.6L1033.5,725.6L1034.0,725.7L1034.5,725.7L1035.0,725.7L1035.5,725.8L1036.0,725.8L1036.5,725.8L1037.0,725.9L1037.5,725.9L1038.0,726.0L1038.5,726.1L1039.0,726.4L1039.5,726.6L1040.0,726.9L1040.5,727.2L1041.0,727.5L1041.5,727.8L1042.0,728.0L1042.5,728.3L1043.0,728.6L1043.5,728.7L1044.0,728.8L1044.5,728.8L1045.0,728.6L1045.5,728.4L1046.0,728.2L1046.5,728.0L1047.0,727.7L1047.5,727.5L1048.0,727.3L1048.5,727.0L1049.0,726.8L1049.5,726.5L1050.0,726.4L1050.5,726.3L1051.0,726.4L1051.5,726.5L1052.0,726.8L1052.5,727.1L1053.0,727.4L1053.5,727.7L1054.0,728.0L1054.5,728.2L1055.0,728.5L1055.5,728.7L1056.0,729.0L1056.5,729.1L1057.0,729.2L1057.5,729.2L1058.0,729.2L1058.5,729.2L1059.0,729.2L1059.5,729.2L1060.0,729.3L1060.5,729.3L1061.0,729.3L1061.5,729.3L1062.0,729.3L1062.5,729.3L1063.0,729.4L1063.5,729.5L1064.0,729.8L1064.5,730.1L1065.0,730.4L1065.5,730.7L1066.0,731.0L1066.5,731.2L1067.0,731.4L1067.5,731.6L1068.0,731.8L1068.5,732.0L1069.0,732.2L1069.5,732.4L1070.0,732.5L1070.5,732.5L1071.0,732.4L1071.5,732.3L1072.0,732.0L1072.5,731.7L1073.0,731.3L1073.5,730.9L1074.0,730.5L1074.5,730.0L1075.0,729.4L1075.5,728.6L1076.0,727.8L1076.5,727.0L1077.0,726.2L1077.5,725.5L1078.0,724.8L1078.5,724.0L1079.0,723.3L1079.5,722.6L1080.0,721.9L1080.5,721.4L1081.0,721.0L1081.5,720.7L1082.0,720.4L1082.5,720.1L1083.0,719.9L1083.5,719.7L1084.0,719.6L1084.5,719.6L1085.0,719.7L1085.5,719.8L1086.0,720.0L1086.5,720.2L1087.0,720.5L1087.5,720.7L1088.0,721.0L1088.5,721.3L1089.0,721.6L1089.5,722.0L1090.0,722.5L1090.5,723.0L1091.0,723.5L1091.5,724.0L1092.0,724.5L1092.5,725.0L1093.0,725.5L1093.5,726.0L1094.0,726.6L1094.5,727.2L1095.0,727.8L1095.5,728.3L1096.0,728.9L1096.5,729.4L1097.0,729.8L1097.5,730.2L1098.0,730.6L1098.5,731.0L1099.0,731.3L1099.5,731.6L1100.0,731.9L1100.5,732.1L1101.0,732.2L1101.5,732.3L1102.0,732.3L1102.5,732.3L1103.0,732.4L1103.5,732.4L1104.0,732.4L1104.5,732.5L1105.0,732.5L1105.5,732.5L1106.0,732.5L1106.5,732.5L1107.0,732.4L1107.5,732.3L1108.0,732.2L1108.5,732.1L1109.0,732.0L1109.5,731.9L1110.0,731.8L1110.5,731.7L1111.0,731.6L1111.5,731.5L1112.0,731.5L1112.5,731.6L1113.0,731.8L1113.5,732.0L1114.0,732.4L1114.5,732.7L1115.0,733.0L1115.5,733.3L1116.0,733.7L1116.5,734.1L1117.0,734.5L1117.5,734.9L1118.0,735.2L1118.5,735.5L1119.0,735.7L1119.5,735.9L1120.0,736.0L1120.5,736.2L1121.0,736.3L1121.5,736.4L1122.0,736.6L1122.5,736.7L1123.0,736.8L1123.5,736.8L1124.0,736.9L1124.5,737.0L1125.0,737.0L1125.5,737.0L1126.0,737.0L1126.5,736.8L1127.0,736.6L1127.5,736.4L1128.0,736.1L1128.5,735.8L1129.0,735.5L1129.5,735.1L1130.0,734.5L1130.5,733.8L1131.0,733.1L1131.5,732.3L1132.0,731.5L1132.5,730.7L1133.0,730.0L1133.5,729.3L1134.0,728.7L1134.5,728.0L1135.0,727.3L1135.5,726.7L1136.0,726.0L1136.5,725.5L1137.0,725.0L1137.5,724.5L1138.0,724.1L1138.5,723.6L1139.0,723.3L1139.5,723.0L1140.0,722.8L1140.5,722.7L1141.0,722.6L1141.5,722.6L1142.0,722.5L1142.5,722.5L1143.0,722.6L1143.5,722.8L1144.0,723.1L1144.5,723.5L1145.0,723.8L1145.5,724.2L1146.0,724.5L1146.5,724.8L1147.0,725.1L1147.5,725.4L1148.0,725.6L1148.5,725.9L1149.0,726.1L1149.5,726.3L1150.0,726.5L1150.5,726.5L1151.0,726.5L1151.5,726.4L1152.0,726.2L1152.5,726.0L1153.0,725.8L1153.5,725.7L1154.0,725.5L1154.5,725.3L1155.0,725.2L1155.5,725.0L1156.0,724.8L1156.5,724.6L1157.0,724.5L1157.5,724.4L1158.0,724.3L1158.5,724.3L1159.0,724.2L1159.5,724.2L1160.0,724.1L1160.5,724.1L1161.0,724.1L1161.5,724.0L1162.0,724.0L1162.5,724.0L1163.0,724.0L1163.5,724.0L1164.0,724.0L1164.5,724.1L1165.0,724.1L1165.5,724.2L1166.0,724.3L1166.5,724.4L1167.0,724.5L1167.5,724.6L1168.0,724.6L1168.5,724.7L1169.0,724.8L1169.5,724.9L1170.0,724.9L1170.5,725.0L1171.0,725.1L1171.5,725.1L1172.0,725.2L1172.5,725.2L1173.0,725.3L1173.5,725.4L1174.0,725.5L1174.5,725.6L1175.0,725.7L1175.5,725.9L1176.0,726.1L1176.5,726.3L1177.0,726.6L1177.5,726.9L1178.0,727.3L1178.5,727.6L1179.0,727.9L1179.5,728.2L1180.0,728.5L1180.5,728.8L1181.0,729.0L1181.5,729.3L1182.0,729.5L1182.5,729.8L1183.0,730.0L1183.5,730.1L1184.0,730.3L1184.5,730.4L1185.0,730.5L1185.5,730.6L1186.0,730.7L1186.5,730.8L1187.0,730.9L1187.5,731.0L1188.0,731.0L1188.5,731.1L1189.0,731.2L1189.5,731.3L1190.0,731.4L1190.5,731.4L1191.0,731.5L1191.5,731.6L1192.0,731.6L1192.5,731.7L1193.0,731.8L1193.5,731.9L1194.0,732.0L1194.5,732.1L1195.0,732.3L1195.5,732.5L1196.0,732.7L1196.5,732.9L1197.0,733.2L1197.5,733.4L1198.0,733.6L1198.5,733.7L1199.0,733.9L1199.5,734.0L1200.0,734.0L1200.5,734.0L1201.0,733.8L1201.5,733.7L1202.0,733.5L1202.5,733.2L1203.0,733.0L1203.5,732.7L1204.0,732.5L1204.5,732.3L1205.0,732.0L1205.5,731.7L1206.0,731.5L1206.5,731.2L1207.0,730.9L1207.5,730.6L1208.0,730.4L1208.5,730.2L1209.0,730.0L1209.5,729.9L1210.0,729.7L1210.5,729.6L1211.0,729.5L1211.5,729.4L1212.0,729.3L1212.5,729.3L1213.0,729.2L1213.5,729.1L1214.0,729.0L1214.5,728.9L1215.0,728.8L1215.5,728.7L1216.0,728.6L1216.5,728.5L1217.0,728.3L1217.5,728.2L1218.0,728.1L1218.5,728.0L1219.0,727.9L1219.5,727.8L1220.0,727.6L1220.5,727.5L1221.0,727.4L1221.5,727.3L1222.0,727.2L1222.5,727.1L1223.0,727.0L1223.5,726.9L1224.0,726.7L1224.5,726.6L1225.0,726.5L1225.5,726.4L1226.0,726.3L1226.5,726.1L1227.0,726.0L1227.5,726.0L1228.0,725.9L1228.5,725.8L1229.0,725.8L1229.5,725.8L1230.0,725.8L1230.5,725.9L1231.0,726.0L1231.5,726.1L1232.0,726.3L1232.5,726.5L1233.0,726.6L1233.5,726.8L1234.0,727.0L1234.5,727.2L1235.0,727.4L1235.5,727.7L1236.0,728.0L1236.5,728.3L1237.0,728.6L1237.5,728.9L1238.0,729.1L1238.5,729.4L1239.0,729.5L1239.5,729.7L1240.0,729.7L1240.5,729.6L1241.0,729.5L1241.5,729.2L1242.0,728.9L1242.5,728.5L1243.0,728.2L1243.5,727.8L1244.0,727.5L1244.5,727.2L1245.0,726.8L1245.5,726.3L1246.0,725.9L1246.5,725.4L1247.0,725.0L1247.5,724.7L1248.0,724.3L1248.5,724.1L1249.0,724.0L1249.5,724.0L1250.0,724.2L1250.5,724.4L1251.0,724.7L1251.5,725.1L1252.0,725.5L1252.5,725.9L1253.0,726.3L1253.5,726.7L1254.0,727.0L1254.5,727.3L1255.0,727.6L1255.5,727.9L1256.0,728.3L1256.5,728.6L1257.0,728.9L1257.5,729.2L1258.0,729.5L1258.5,729.7L1259.0,729.9L1259.5,730.0L1260.0,730.0L1260.5,730.0L1261.0,729.9L1261.5,729.9L1262.0,729.8L1262.5,729.6L1263.0,729.5L1263.5,729.4L1264.0,729.3L1264.5,729.1L1265.0,729.0L1265.5,728.9L1266.0,728.7L1266.5,728.5L1267.0,728.4L1267.5,728.2L1268.0,728.0L1268.5,727.8L1269.0,727.7L1269.5,727.6L1270.0,727.5L1270.5,727.5L1271.0,727.6L1271.5,727.8L1272.0,728.2L1272.5,728.6L1273.0,729.1L1273.5,729.5L1274.0,730.0L1274.5,730.5L1275.0,731.0L1275.5,731.6L1276.0,732.2L1276.5,732.9L1277.0,733.5L1277.5,734.0L1278.0,734.5L1278.5,735.0L1279.0,735.4L1279.5,735.8L1280.0,736.3L1280.5,736.6L1281.0,737.0L1281.5,737.3L1282.0,737.5L1282.5,737.7L1283.0,737.9L1283.5,738.0L1284.0,738.2L1284.5,738.3L1285.0,738.4L1285.5,738.5L1286.0,738.5L1286.5,738.4L1287.0,738.3L1287.5,738.0L1288.0,737.6L1288.5,737.2L1289.0,736.8L1289.5,736.4L1290.0,736.0L1290.5,735.5L1291.0,735.0L1291.5,734.4L1292.0,733.8L1292.5,733.3L1293.0,733.0L1293.5,732.8L1294.0,732.5L1294.5,732.3L1295.0,732.1L1295.5,732.0L1296.0,732.0L1296.5,732.0L1297.0,732.2L1297.5,732.4L1298.0,732.7L1298.5,733.0L1299.0,733.3L1299.5,733.7L1300.0,734.0L1300.5,734.4L1301.0,734.8L1301.5,735.4L1302.0,735.9L1302.5,736.5L1303.0,737.0L1303.5,737.5L1304.0,738.0L1304.5,738.4L1305.0,738.9L1305.5,739.4L1306.0,739.7L1306.5,740.0L1307.0,740.2L1307.5,740.3L1308.0,740.3L1308.5,740.4L1309.0,740.4L1309.5,740.5L1310.0,740.5L1310.5,740.5L1311.0,740.6L1311.5,740.6L1312.0,740.6L1312.5,740.7L1313.0,740.7L1313.5,740.7L1314.0,740.8L1314.5,740.9L1315.0,740.9L1315.5,741.0L1316.0,741.1L1316.5,741.1L1317.0,741.2L1317.5,741.3L1318.0,741.3L1318.5,741.4L1319.0,741.4L1319.5,741.4L1320.0,741.5L1320.5,741.5L1321.0,741.5L1321.5,741.4L1322.0,741.2L1322.5,740.8L1323.0,740.4L1323.5,739.9L1324.0,739.4L1324.5,738.9L1325.0,738.5L1325.5,738.1L1326.0,737.6L1326.5,737.1L1327.0,736.6L1327.5,736.1L1328.0,735.6L1328.5,735.3L1329.0,735.0L1329.5,734.8L1330.0,734.6L1330.5,734.4L1331.0,734.2L1331.5,734.0L1332.0,733.9L1332.5,733.8L1333.0,733.8L1333.5,733.8L1334.0,733.8L1334.5,733.8L1335.0,733.9L1335.5,734.0L1336.0,734.1L1336.5,734.2" stroke="#377eb8"/>
<path d="M183.5,813.0L184.0,807.5L184.5,800.8L185.0,793.0L185.5,785.0L186.0,777.4L186.5,769.7L187.0,761.7L187.5,752.9L188.0,745.0L188.5,738.7L189.0,733.1L189.5,728.0L190.0,723.1L190.5,718.4L191.0,714.1L191.5,710.0L192.0,706.2L192.5,702.5L193.0,699.1L193.5,695.6L194.0,692.2L194.5,688.6L195.0,685.1L195.5,681.6L196.0,678.1L196.5,674.2L197.0,670.0L197.5,665.2L198.0,659.7L198.5,653.8L199.0,647.3L199.5,640.0L200.0,632.6L200.5,624.9L201.0,617.3L201.5,609.8L202.0,602.7L202.5,596.0L203.0,589.5L203.5,583.3L204.0,577.8L204.5,573.3L205.0,569.2L205.5,565.8L206.0,563.7L206.5,562.1L207.0,561.4L207.5,562.1L208.0,563.6L208.5,566.2L209.0,570.5L209.5,575.0L210.0,579.3L210.5,583.9L211.0,588.5L211.5,593.3L212.0,598.1L212.5,602.9L213.0,607.8L213.5,612.8L214.0,617.8L214.5,622.8L215.0,627.9L215.5,633.0L216.0,638.0L216.5,643.1L217.0,648.3L217.5,652.2L218.0,655.5L218.5,658.3L219.0,661.1L219.5,664.0L220.0,666.6L220.5,668.9L221.0,670.6L221.5,672.0L222.0,673.2L222.5,674.2L223.0,675.0L223.5,675.6L224.0,676.2L224.5,676.6L225.0,676.8L225.5,676.8L226.0,676.7L226.5,676.5L227.0,676.3L227.5,676.2L228.0,676.0L228.5,675.8L229.0,675.7L229.5,675.5L230.0,675.3L230.5,675.2L231.0,675.2L231.5,675.3L232.0,675.6L232.5,676.0L233.0,676.5L233.5,677.1L234.0,677.7L234.5,678.4L235.0,679.0L235.5,679.7L236.0,680.4L236.5,681.2L237.0,682.1L237.5,683.0L238.0,684.0L238.5,685.0L239.0,686.0L239.5,687.0L240.0,688.0L240.5,689.0L241.0,690.1L241.5,691.2L242.0,692.4L242.5,693.6L243.0,694.7L243.5,695.9L244.0,697.0L244.5,698.0L245.0,699.0L245.5,700.0L246.0,700.9L246.5,701.8L247.0,702.7L247.5,703.4L248.0,704.0L248.5,704.5L249.0,704.9L249.5,705.3L250.0,705.5L250.5,705.6L251.0,705.7L251.5,705.7L252.0,705.8L252.5,705.9L253.0,706.0L253.5,706.2L254.0,706.6L254.5,707.1L255.0,707.7L255.5,708.3L256.0,709.0L256.5,709.8L257.0,710.7L257.5,711.8L258.0,713.0L258.5,714.3L259.0,715.6L259.5,716.8L260.0,718.0L260.5,719.2L261.0,720.4L261.5,721.7L262.0,722.9L262.5,724.0L263.0,725.0L263.5,726.0L264.0,727.0L264.5,727.9L265.0,728.7L265.5,729.3L266.0,729.5L266.5,729.3L267.0,728.9L267.5,728.2L268.0,727.5L268.5,726.6L269.0,725.3L269.5,723.7L270.0,722.0L270.5,719.9L271.0,717.4L271.5,714.6L272.0,711.5L272.5,708.3L273.0,705.0L273.5,701.5L274.0,697.7L274.5,693.7L275.0,689.7L275.5,685.7L276.0,682.0L276.5,678.4L277.0,674.9L277.5,671.4L278.0,668.0L278.5,664.9L279.0,662.0L279.5,659.4L280.0,656.9L280.5,654.5L281.0,652.3L281.5,650.1L282.0,648.0L282.5,645.9L283.0,643.9L283.5,641.9L284.0,640.0L284.5,638.0L285.0,635.9L285.5,633.9L286.0,632.2L286.5,631.0L287.0,630.2L287.5,629.4L288.0,628.8L288.5,628.4L289.0,628.2L289.5,628.3L290.0,628.7L290.5,629.2L291.0,629.7L291.5,630.4L292.0,631.0L292.5,631.7L293.0,632.6L293.5,633.5L294.0,634.5L294.5,635.3L295.0,636.0L295.5,636.5L296.0,637.0L296.5,637.4L297.0,637.7L297.5,638.1L298.0,638.4L298.5,638.7L299.0,638.9L299.5,639.2L300.0,639.5L300.5,639.9L301.0,640.3L301.5,640.8L302.0,641.4L302.5,642.1L303.0,643.0L303.5,644.4L304.0,646.5L304.5,649.1L305.0,651.7L305.5,654.0L306.0,656.2L306.5,658.6L307.0,660.9L307.5,662.8L308.0,664.0L308.5,664.8L309.0,665.5L309.5,666.2L310.0,666.7L310.5,667.1L311.0,667.4L311.5,667.5L312.0,667.4L312.5,667.1L313.0,666.6L313.5,666.1L314.0,665.5L314.5,665.0L315.0,664.5L315.5,664.0L316.0,663.5L316.5,663.0L317.0,662.6L317.5,662.3L318.0,662.2L318.5,662.3L319.0,662.6L319.5,663.0L320.0,663.4L320.5,663.9L321.0,664.4L321.5,664.8L322.0,665.2L322.5,665.7L323.0,666.1L323.5,666.6L324.0,667.1L324.5,667.6L325.0,667.9L325.5,668.2L326.0,668.4L326.5,668.5L327.0,668.4L327.5,668.2L328.0,667.9L328.5,667.5L329.0,667.1L329.5,666.5L330.0,666.0L330.5,665.2L331.0,664.0L331.5,662.6L332.0,661.2L332.5,659.9L333.0,659.0L333.5,658.3L334.0,657.6L334.5,656.9L335.0,656.2L335.5,655.7L336.0,655.2L336.5,654.8L337.0,654.6L337.5,654.5L338.0,654.6L338.5,655.0L339.0,655.5L339.5,656.1L340.0,656.8L340.5,657.4L341.0,658.0L341.5,658.6L342.0,659.3L342.5,660.0L343.0,660.8L343.5,661.4L344.0,662.0L344.5,662.4L345.0,662.5L345.5,662.4L346.0,662.0L346.5,661.5L347.0,660.7L347.5,659.9L348.0,659.0L348.5,657.6L349.0,655.4L349.5,653.1L350.0,651.0L350.5,649.1L351.0,647.3L351.5,645.5L352.0,644.0L352.5,643.0L353.0,642.3L353.5,641.5L354.0,640.9L354.5,640.3L355.0,639.9L355.5,639.5L356.0,639.3L356.5,639.2L357.0,639.3L357.5,639.4L358.0,639.7L358.5,640.0L359.0,640.4L359.5,640.9L360.0,641.4L360.5,641.9L361.0,642.5L361.5,643.2L362.0,644.2L362.5,645.3L363.0,646.6L363.5,647.8L364.0,649.0L364.5,650.2L365.0,651.4L365.5,652.7L366.0,653.9L366.5,655.0L367.0,656.0L367.5,656.9L368.0,657.7L368.5,658.6L369.0,659.2L369.5,659.7L370.0,660.0L370.5,660.1L371.0,660.2L371.5,660.2L372.0,660.2L372.5,660.3L373.0,660.3L373.5,660.3L374.0,660.4L374.5,660.5L375.0,660.7L375.5,661.0L376.0,661.4L376.5,661.9L377.0,662.4L377.5,663.0L378.0,663.8L378.5,664.8L379.0,665.9L379.5,667.1L380.0,668.2L380.5,669.0L381.0,669.7L381.5,670.4L382.0,671.0L382.5,671.6L383.0,672.1L383.5,672.4L384.0,672.5L384.5,672.4L385.0,672.2L385.5,671.8L386.0,671.4L386.5,670.8L387.0,670.2L387.5,669.6L388.0,669.0L388.5,668.2L389.0,667.2L389.5,666.0L390.0,664.9L390.5,663.8L391.0,663.0L391.5,662.3L392.0,661.6L392.5,661.0L393.0,660.4L393.5,660.0L394.0,659.7L394.5,659.5L395.0,659.5L395.5,659.4L396.0,659.4L396.5,659.4L397.0,659.4L397.5,659.3L398.0,659.3L398.5,659.3L399.0,659.3L399.5,659.2L400.0,659.2L400.5,659.1L401.0,658.8L401.5,658.4L402.0,657.9L402.5,657.4L403.0,656.8L403.5,656.3L404.0,655.8L404.5,655.3L405.0,655.0L405.5,654.8L406.0,654.8L406.5,655.0L407.0,655.4L407.5,655.9L408.0,656.5L408.5,657.2L409.0,658.0L409.5,659.2L410.0,661.0L410.5,663.1L411.0,665.0L411.5,666.9L412.0,668.9L412.5,670.9L413.0,672.6L413.5,674.0L414.0,675.0L414.5,675.8L415.0,676.6L415.5,677.3L416.0,678.0L416.5,678.8L417.0,679.5L417.5,680.2L418.0,680.9L418.5,681.6L419.0,682.3L419.5,683.1L420.0,684.0L420.5,685.0L421.0,686.0L421.5,687.2L422.0,688.3L422.5,689.5L423.0,690.7L423.5,691.9L424.0,693.0L424.5,694.1L425.0,695.2L425.5,696.4L426.0,697.5L426.5,698.6L427.0,699.5L427.5,700.4L428.0,701.0L428.5,701.5L429.0,702.1L429.5,702.6L430.0,703.0L430.5,703.4L431.0,703.7L431.5,703.9L432.0,704.0L432.5,703.9L433.0,703.5L433.5,702.9L434.0,702.2L434.5,701.5L435.0,700.7L435.5,700.0L436.0,699.5L436.5,699.0L437.0,698.5L437.5,698.0L438.0,697.5L438.5,697.0L439.0,696.6L439.5,696.3L440.0,696.1L440.5,696.0L441.0,696.1L441.5,696.5L442.0,697.0L442.5,697.7L443.0,698.5L443.5,699.2L444.0,700.0L444.5,700.9L445.0,701.9L445.5,703.1L446.0,704.2L446.5,705.2L447.0,706.0L447.5,706.6L448.0,707.3L448.5,707.9L449.0,708.4L449.5,708.7L450.0,708.8L450.5,708.8L451.0,708.8L451.5,708.8L452.0,708.8L452.5,708.8L453.0,708.8L453.5,708.8L454.0,708.8L454.5,708.8L455.0,708.8L455.5,708.8L456.0,708.8L456.5,708.8L457.0,709.0L457.5,709.2L458.0,709.4L458.5,709.7L459.0,710.0L459.5,710.4L460.0,710.8L460.5,711.1L461.0,711.5L461.5,711.9L462.0,712.3L462.5,712.8L463.0,713.3L463.5,713.8L464.0,714.4L464.5,715.0L465.0,715.6L465.5,716.3L466.0,717.0L466.5,717.8L467.0,718.7L467.5,719.7L468.0,720.8L468.5,721.9L469.0,723.0L469.5,724.1L470.0,725.4L470.5,726.7L471.0,727.9L471.5,729.0L472.0,730.0L472.5,730.8L473.0,731.6L473.5,732.3L474.0,733.0L474.5,733.5L475.0,734.0L475.5,734.4L476.0,734.8L476.5,735.2L477.0,735.5L477.5,735.8L478.0,736.1L478.5,736.3L479.0,736.6L479.5,736.8L480.0,737.0L480.5,737.2L481.0,737.4L481.5,737.6L482.0,737.8L482.5,737.9L483.0,738.1L483.5,738.2L484.0,738.3L484.5,738.4L485.0,738.5L485.5,738.6L486.0,738.6L486.5,738.6L487.0,738.7L487.5,738.7L488.0,738.7L488.5,738.7L489.0,738.8L489.5,738.8L490.0,738.8L490.5,738.8L491.0,738.9L491.5,738.9L492.0,739.0L492.5,739.1L493.0,739.3L493.5,739.6L494.0,740.0L494.5,740.4L495.0,740.8L495.5,741.2L496.0,741.7L496.5,742.1L497.0,742.5L497.5,742.9L498.0,743.3L498.5,743.8L499.0,744.2L499.5,744.7L500.0,745.1L500.5,745.6L501.0,745.9L501.5,746.2L502.0,746.5L502.5,746.7L503.0,746.9L503.5,747.1L504.0,747.3L504.5,747.5L505.0,747.7L505.5,747.8L506.0,747.9L506.5,748.0L507.0,748.0L507.5,748.0L508.0,748.0L508.5,747.9L509.0,747.9L509.5,747.8L510.0,747.7L510.5,747.7L511.0,747.6L511.5,747.5L512.0,747.4L512.5,747.3L513.0,747.2L513.5,747.1L514.0,746.9L514.5,746.7L515.0,746.5L515.5,746.2L516.0,746.0L516.5,745.7L517.0,745.5L517.5,745.3L518.0,745.1L518.5,745.0L519.0,745.0L519.5,745.1L520.0,745.3L520.5,745.6L521.0,746.1L521.5,746.5L522.0,747.0L522.5,747.5L523.0,748.0L523.5,748.5L524.0,749.0L524.5,749.6L525.0,750.3L525.5,750.9L526.0,751.5L526.5,752.0L527.0,752.5L527.5,752.9L528.0,753.4L528.5,753.8L529.0,754.2L529.5,754.6L530.0,754.9L530.5,755.1L531.0,755.3L531.5,755.4L532.0,755.5L532.5,755.6L533.0,755.7L533.5,755.7L534.0,755.8L534.5,755.8L535.0,755.8L535.5,755.7L536.0,755.6L536.5,755.5L537.0,755.3L537.5,755.1L538.0,754.9L538.5,754.7L539.0,754.5L539.5,754.2L540.0,753.9L540.5,753.5L541.0,753.0L541.5,752.5L542.0,751.9L542.5,751.4L543.0,750.9L543.5,750.4L544.0,750.0L544.5,749.6L545.0,749.2L545.5,748.7L546.0,748.3L546.5,747.9L547.0,747.6L547.5,747.4L548.0,747.2L548.5,747.1L549.0,747.0L549.5,746.9L550.0,746.9L550.5,746.8L551.0,746.8L551.5,746.8L552.0,747.0L552.5,747.2L553.0,747.4L553.5,747.7L554.0,747.9L554.5,748.2L555.0,748.5L555.5,748.8L556.0,749.1L556.5,749.4L557.0,749.8L557.5,750.1L558.0,750.5L558.5,750.8L559.0,751.0L559.5,751.2L560.0,751.4L560.5,751.6L561.0,751.8L561.5,752.0L562.0,752.1L562.5,752.2L563.0,752.2L563.5,752.1L564.0,752.0L564.5,751.7L565.0,751.4L565.5,751.1L566.0,750.8L566.5,750.5L567.0,750.1L567.5,749.7L568.0,749.3L568.5,748.9L569.0,748.6L569.5,748.5L570.0,748.5L570.5,748.4L571.0,748.4L571.5,748.4L572.0,748.4L572.5,748.3L573.0,748.3L573.5,748.3L574.0,748.3L574.5,748.3L575.0,748.3L575.5,748.2L576.0,748.2L576.5,748.1L577.0,748.0L577.5,747.8L578.0,747.5L578.5,747.3L579.0,747.0L579.5,746.7L580.0,746.4L580.5,746.2L581.0,746.0L581.5,745.8L582.0,745.7L582.5,745.6L583.0,745.5L583.5,745.4L584.0,745.2L584.5,745.1L585.0,745.0L585.5,744.9L586.0,744.7L586.5,744.5L587.0,744.2L587.5,743.9L588.0,743.5L588.5,743.1L589.0,742.6L589.5,742.2L590.0,741.7L590.5,741.3L591.0,741.0L591.5,740.7L592.0,740.3L592.5,740.0L593.0,739.7L593.5,739.4L594.0,739.1L594.5,738.8L595.0,738.7L595.5,738.5L596.0,738.5L596.5,738.5L597.0,738.6L597.5,738.8L598.0,739.0L598.5,739.2L599.0,739.5L599.5,739.7L600.0,740.0L600.5,740.3L601.0,740.8L601.5,741.3L602.0,741.8L602.5,742.4L603.0,743.0L603.5,743.5L604.0,744.0L604.5,744.4L605.0,744.9L605.5,745.3L606.0,745.8L606.5,746.2L607.0,746.5L607.5,746.8L608.0,747.0L608.5,747.2L609.0,747.3L609.5,747.4L610.0,747.6L610.5,747.7L611.0,747.7L611.5,747.8L612.0,747.8L612.5,747.8L613.0,747.6L613.5,747.4L614.0,747.1L614.5,746.8L615.0,746.5L615.5,746.0L616.0,745.3L616.5,744.4L617.0,743.5L617.5,742.7L618.0,742.0L618.5,741.5L619.0,740.9L619.5,740.4L620.0,739.9L620.5,739.4L621.0,739.1L621.5,738.8L622.0,738.6L622.5,738.5L623.0,738.6L623.5,738.7L624.0,738.9L624.5,739.2L625.0,739.4L625.5,739.7L626.0,740.0L626.5,740.3L627.0,740.6L627.5,740.9L628.0,741.2L628.5,741.5L629.0,741.9L629.5,742.2L630.0,742.5L630.5,742.8L631.0,743.0L631.5,743.2L632.0,743.4L632.5,743.6L633.0,743.8L633.5,744.0L634.0,744.2L634.5,744.3L635.0,744.5L635.5,744.6L636.0,744.7L636.5,744.8L637.0,744.9L637.5,744.9L638.0,745.0L638.5,745.1L639.0,745.1L639.5,745.2L640.0,745.2L640.5,745.2L641.0,745.2L641.5,745.1L642.0,745.0L642.5,744.9L643.0,744.8L643.5,744.7L644.0,744.5L644.5,744.4L645.0,744.2L645.5,744.0L646.0,743.8L646.5,743.5L647.0,743.2L647.5,742.9L648.0,742.6L648.5,742.3L649.0,742.0L649.5,741.7L650.0,741.5L650.5,741.3L651.0,741.1L651.5,740.9L652.0,740.8L652.5,740.6L653.0,740.4L653.5,740.3L654.0,740.1L654.5,739.9L655.0,739.7L655.5,739.5L656.0,739.2L656.5,738.9L657.0,738.4L657.5,738.0L658.0,737.4L658.5,736.9L659.0,736.4L659.5,735.9L660.0,735.5L660.5,735.1L661.0,734.7L661.5,734.3L662.0,733.9L662.5,733.6L663.0,733.3L663.5,733.0L664.0,732.9L664.5,732.8L665.0,732.8L665.5,732.9L666.0,733.0L666.5,733.1L667.0,733.2L667.5,733.3L668.0,733.5L668.5,733.6L669.0,733.8L669.5,733.9L670.0,734.0L670.5,734.1L671.0,734.2L671.5,734.3L672.0,734.4L672.5,734.5L673.0,734.6L673.5,734.7L674.0,734.8L674.5,734.9L675.0,735.0L675.5,735.1L676.0,735.2L676.5,735.3L677.0,735.4L677.5,735.5L678.0,735.6L678.5,735.7L679.0,735.8L679.5,735.8L680.0,735.9L680.5,736.0L681.0,736.1L681.5,736.1L682.0,736.2L682.5,736.2L683.0,736.2L683.5,736.2L684.0,736.1L684.5,736.1L685.0,736.0L685.5,735.9L686.0,735.8L686.5,735.6L687.0,735.5L687.5,735.4L688.0,735.2L688.5,735.1L689.0,735.0L689.5,734.9L690.0,734.8L690.5,734.6L691.0,734.5L691.5,734.4L692.0,734.2L692.5,734.1L693.0,734.0L693.5,733.8L694.0,733.7L694.5,733.6L695.0,733.5L695.5,733.4L696.0,733.3L696.5,733.1L697.0,733.0L697.5,732.8L698.0,732.5L698.5,732.2L699.0,731.7L699.5,731.3L700.0,730.9L700.5,730.5L701.0,730.1L701.5,729.8L702.0,729.4L702.5,729.1L703.0,728.9L703.5,728.8L704.0,728.8L704.5,728.9L705.0,729.0L705.5,729.1L706.0,729.3L706.5,729.4L707.0,729.5L707.5,729.6L708.0,729.7L708.5,729.8L709.0,729.9L709.5,730.0L710.0,730.1L710.5,730.2L711.0,730.2L711.5,730.2L712.0,730.0L712.5,729.8L713.0,729.6L713.5,729.3L714.0,729.0L714.5,728.7L715.0,728.5L715.5,728.2L716.0,728.0L716.5,727.7L717.0,727.4L717.5,727.1L718.0,726.8L718.5,726.6L719.0,726.5L719.5,726.4L720.0,726.3L720.5,726.2L721.0,726.2L721.5,726.1L722.0,726.1L722.5,726.0L723.0,726.0L723.5,726.0L724.0,726.0L724.5,726.1L725.0,726.2L725.5,726.3L726.0,726.5L726.5,726.6L727.0,726.8L727.5,727.0L728.0,727.4L728.5,727.8L729.0,728.3L729.5,728.7L730.0,729.0L730.5,729.3L731.0,729.5L731.5,729.7L732.0,729.8L732.5,730.0L733.0,730.1L733.5,730.2L734.0,730.2L734.5,730.2L735.0,730.1L735.5,729.9L736.0,729.7L736.5,729.5L737.0,729.3L737.5,729.0L738.0,728.8L738.5,728.5L739.0,728.2L739.5,727.9L740.0,727.6L740.5,727.2L741.0,726.8L741.5,726.4L742.0,726.0L742.5,725.6L743.0,725.1L743.5,724.7L744.0,724.2L744.5,723.7L745.0,723.2L745.5,722.7L746.0,722.3L746.5,721.9L747.0,721.5L747.5,721.1L748.0,720.8L748.5,720.5L749.0,720.1L749.5,719.8L750.0,719.6L750.5,719.4L751.0,719.2L751.5,719.1L752.0,718.9L752.5,718.8L753.0,718.7L753.5,718.6L754.0,718.6L754.5,718.5L755.0,718.5L755.5,718.5L756.0,718.6L756.5,718.8L757.0,719.0L757.5,719.2L758.0,719.4L758.5,719.6L759.0,719.8L759.5,720.0L760.0,720.2L760.5,720.4L761.0,720.7L761.5,720.9L762.0,721.1L762.5,721.2L763.0,721.3L763.5,721.4L764.0,721.5L764.5,721.6L765.0,721.7L765.5,721.7L766.0,721.6L766.5,721.5L767.0,721.3L767.5,721.0L768.0,720.6L768.5,720.3L769.0,719.9L769.5,719.4L770.0,718.7L770.5,718.0L771.0,717.3L771.5,716.5L772.0,715.6L772.5,714.5L773.0,713.4L773.5,712.2L774.0,711.1L774.5,710.0L775.0,709.0L775.5,707.9L776.0,706.9L776.5,706.1L777.0,705.5L777.5,705.1L778.0,704.7L778.5,704.4L779.0,704.1L779.5,704.0L780.0,704.0L780.5,704.2L781.0,704.5L781.5,704.9L782.0,705.3L782.5,705.8L783.0,706.2L783.5,706.6L784.0,707.1L784.5,707.6L785.0,708.1L785.5,708.5L786.0,708.8L786.5,709.0L787.0,709.2L787.5,709.4L788.0,709.6L788.5,709.8L789.0,710.0L789.5,710.3L790.0,710.7L790.5,711.2L791.0,711.6L791.5,712.1L792.0,712.6L792.5,713.1L793.0,713.5L793.5,713.9L794.0,714.3L794.5,714.8L795.0,715.2L795.5,715.5L796.0,715.8L796.5,716.0L797.0,716.0L797.5,715.8L798.0,715.6L798.5,715.2L799.0,714.8L799.5,714.4L800.0,714.0L800.5,713.5L801.0,713.0L801.5,712.4L802.0,711.7L802.5,711.0L803.0,710.4L803.5,709.9L804.0,709.5L804.5,709.2L805.0,708.8L805.5,708.5L806.0,708.2L806.5,707.9L807.0,707.6L807.5,707.5L808.0,707.3L808.5,707.3L809.0,707.3L809.5,707.5L810.0,707.7L810.5,707.9L811.0,708.1L811.5,708.4L812.0,708.7L812.5,709.0L813.0,709.5L813.5,710.0L814.0,710.5L814.5,711.0L815.0,711.5L815.5,711.9L816.0,712.2L816.5,712.4L817.0,712.7L817.5,712.9L818.0,713.0L818.5,713.2L819.0,713.2L819.5,713.2L820.0,713.1L820.5,712.9L821.0,712.8L821.5,712.6L822.0,712.5L822.5,712.4L823.0,712.3L823.5,712.2L824.0,712.2L824.5,712.1L825.0,712.1L825.5,712.2L826.0,712.3L826.5,712.5L827.0,712.8L827.5,713.1L828.0,713.4L828.5,713.7L829.0,714.0L829.5,714.3L830.0,714.6L830.5,714.9L831.0,715.3L831.5,715.6L832.0,715.9L832.5,716.1L833.0,716.3L833.5,716.4L834.0,716.6L834.5,716.7L835.0,716.8L835.5,716.9L836.0,717.0L836.5,717.0L837.0,716.9L837.5,716.8L838.0,716.6L838.5,716.3L839.0,716.0L839.5,715.7L840.0,715.5L840.5,715.2L841.0,715.0L841.5,714.8L842.0,714.6L842.5,714.5L843.0,714.3L843.5,714.1L844.0,714.0L844.5,713.9L845.0,713.8L845.5,713.8L846.0,713.8L846.5,713.9L847.0,714.1L847.5,714.2L848.0,714.4L848.5,714.6L849.0,714.8L849.5,715.0L850.0,715.2L850.5,715.4L851.0,715.7L851.5,715.9L852.0,716.2L852.5,716.5L853.0,716.7L853.5,716.9L854.0,717.1L854.5,717.2L855.0,717.2L855.5,717.2L856.0,717.1L856.5,716.9L857.0,716.7L857.5,716.4L858.0,716.1L858.5,715.8L859.0,715.6L859.5,715.3L860.0,715.0L860.5,714.7L861.0,714.5L861.5,714.2L862.0,713.9L862.5,713.6L863.0,713.3L863.5,713.0L864.0,712.7L864.5,712.4L865.0,712.0L865.5,711.6L866.0,711.2L866.5,710.8L867.0,710.3L867.5,709.9L868.0,709.4L868.5,708.9L869.0,708.5L869.5,708.1L870.0,707.6L870.5,707.2L871.0,706.7L871.5,706.3L872.0,705.9L872.5,705.5L873.0,705.2L873.5,704.9L874.0,704.6L874.5,704.4L875.0,704.2L875.5,703.9L876.0,703.7L876.5,703.5L877.0,703.2L877.5,702.9L878.0,702.6L878.5,702.2L879.0,701.9L879.5,701.6L880.0,701.2L880.5,700.9L881.0,700.7L881.5,700.5L882.0,700.2L882.5,700.0L883.0,699.8L883.5,699.6L884.0,699.5L884.5,699.5L885.0,699.5L885.5,699.7L886.0,699.9L886.5,700.1L887.0,700.3L887.5,700.6L888.0,700.8L888.5,701.0L889.0,701.2L889.5,701.3L890.0,701.5L890.5,701.6L891.0,701.7L891.5,701.8L892.0,701.9L892.5,702.0L893.0,702.0L893.5,702.0L894.0,701.9L894.5,701.7L895.0,701.5L895.5,701.3L896.0,701.0L896.5,700.8L897.0,700.5L897.5,700.1L898.0,699.6L898.5,699.1L899.0,698.7L899.5,698.2L900.0,697.8L900.5,697.5L901.0,697.1L901.5,696.8L902.0,696.5L902.5,696.2L903.0,696.0L903.5,695.8L904.0,695.6L904.5,695.5L905.0,695.3L905.5,695.2L906.0,695.1L906.5,694.9L907.0,694.8L907.5,694.6L908.0,694.5L908.5,694.3L909.0,694.1L909.5,693.9L910.0,693.8L910.5,693.7L911.0,693.7L911.5,693.8L912.0,694.1L912.5,694.6L913.0,695.1L913.5,695.6L914.0,696.2L914.5,696.8L915.0,697.6L915.5,698.5L916.0,699.3L916.5,700.0L917.0,700.5L917.5,700.8L918.0,701.1L918.5,701.4L919.0,701.6L919.5,701.7L920.0,701.8L920.5,701.8L921.0,701.8L921.5,701.8L922.0,701.8L922.5,701.7L923.0,701.7L923.5,701.7L924.0,701.7L924.5,701.7L925.0,701.8L925.5,702.1L926.0,702.4L926.5,702.9L927.0,703.4L927.5,704.0L928.0,704.5L928.5,705.0L929.0,705.6L929.5,706.3L930.0,706.9L930.5,707.6L931.0,708.3L931.5,708.9L932.0,709.5L932.5,710.1L933.0,710.6L933.5,711.2L934.0,711.8L934.5,712.3L935.0,712.8L935.5,713.3L936.0,713.8L936.5,714.2L937.0,714.5L937.5,714.8L938.0,715.1L938.5,715.4L939.0,715.7L939.5,716.0L940.0,716.2L940.5,716.4L941.0,716.5L941.5,716.5L942.0,716.4L942.5,716.1L943.0,715.7L943.5,715.2L944.0,714.6L944.5,714.1L945.0,713.5L945.5,712.9L946.0,712.2L946.5,711.4L947.0,710.6L947.5,709.8L948.0,709.0L948.5,708.2L949.0,707.5L949.5,706.8L950.0,706.1L950.5,705.5L951.0,704.9L951.5,704.4L952.0,704.0L952.5,703.7L953.0,703.4L953.5,703.2L954.0,703.0L954.5,702.8L955.0,702.7L955.5,702.6L956.0,702.6L956.5,702.8L957.0,703.2L957.5,703.6L958.0,704.1L958.5,704.6L959.0,705.0L959.5,705.4L960.0,705.9L960.5,706.4L961.0,706.9L961.5,707.4L962.0,707.9L962.5,708.3L963.0,708.8L963.5,709.2L964.0,709.7L964.5,710.1L965.0,710.6L965.5,711.0L966.0,711.4L966.5,711.7L967.0,712.0L967.5,712.3L968.0,712.5L968.5,712.8L969.0,713.0L969.5,713.3L970.0,713.5L970.5,713.7L971.0,713.9L971.5,714.0L972.0,714.1L972.5,714.2L973.0,714.2L973.5,714.2L974.0,714.1L974.5,714.0L975.0,713.9L975.5,713.7L976.0,713.6L976.5,713.4L977.0,713.2L977.5,713.1L978.0,712.9L978.5,712.8L979.0,712.7L979.5,712.6L980.0,712.5L980.5,712.5L981.0,712.4L981.5,712.4L982.0,712.3L982.5,712.2L983.0,712.2L983.5,712.1L984.0,712.0L984.5,711.9L985.0,711.8L985.5,711.6L986.0,711.5L986.5,711.3L987.0,711.1L987.5,711.0L988.0,710.8L988.5,710.7L989.0,710.6L989.5,710.5L990.0,710.5L990.5,710.6L991.0,710.7L991.5,710.9L992.0,711.2L992.5,711.5L993.0,711.8L993.5,712.1L994.0,712.5L994.5,712.8L995.0,713.0L995.5,713.2L996.0,713.4L996.5,713.6L997.0,713.8L997.5,714.0L998.0,714.2L998.5,714.4L999.0,714.6L999.5,714.8L1000.0,715.0L1000.5,715.2L1001.0,715.4L1001.5,715.7L1002.0,715.9L1002.5,716.2L1003.0,716.4L1003.5,716.7L1004.0,716.9L1004.5,717.1L1005.0,717.2L1005.5,717.3L1006.0,717.3L1006.5,717.3L1007.0,717.2L1007.5,717.1L1008.0,717.0L1008.5,716.9L1009.0,716.8L1009.5,716.7L1010.0,716.5L1010.5,716.4L1011.0,716.3L1011.5,716.2L1012.0,716.1L1012.5,715.9L1013.0,715.8L1013.5,715.7L1014.0,715.6L1014.5,715.5L1015.0,715.5L1015.5,715.6L1016.0,715.7L1016.5,716.0L1017.0,716.4L1017.5,716.8L1018.0,717.2L1018.5,717.6L1019.0,718.0L1019.5,718.4L1020.0,718.9L1020.5,719.4L1021.0,720.0L1021.5,720.6L1022.0,721.1L1022.5,721.6L1023.0,722.0L1023.5,722.4L1024.0,722.8L1024.5,723.1L1025.0,723.5L1025.5,723.8L1026.0,724.1L1026.5,724.3L1027.0,724.5L1027.5,724.6L1028.0,724.8L1028.5,724.9L1029.0,725.0L1029.5,725.1L1030.0,725.2L1030.5,725.3L1031.0,725.4L1031.5,725.4L1032.0,725.5L1032.5,725.6L1033.0,725.6L1033.5,725.6L1034.0,725.7L1034.5,725.7L1035.0,725.7L1035.5,725.8L1036.0,725.8L1036.5,725.8L1037.0,725.9L1037.5,725.9L1038.0,726.0L1038.5,726.1L1039.0,726.4L1039.5,726.6L1040.0,726.9L1040.5,727.2L1041.0,727.5L1041.5,727.8L1042.0,728.0L1042.5,728.3L1043.0,728.6L1043.5,728.7L1044.0,728.8L1044.5,728.8L1045.0,728.6L1045.5,728.4L1046.0,728.2L1046.5,728.0L1047.0,727.7L1047.5,727.5L1048.0,727.3L1048.5,727.0L1049.0,726.8L1049.5,726.5L1050.0,726.4L1050.5,726.3L1051.0,726.4L1051.5,726.5L1052.0,726.8L1052.5,727.1L1053.0,727.4L1053.5,727.7L1054.0,728.0L1054.5,728.2L1055.0,728.5L1055.5,728.7L1056.0,729.0L1056.5,729.1L1057.0,729.2L1057.5,729.2L1058.0,729.2L1058.5,729.2L1059.0,729.2L1059.5,729.2L1060.0,729.3L1060.5,729.3L1061.0,729.3L1061.5,729.3L1062.0,729.3L1062.5,729.3L1063.0,729.4L1063.5,729.5L1064.0,729.8L1064.5,730.1L1065.0,730.4L1065.5,730.7L1066.0,731.0L1066.5,731.2L1067.0,731.4L1067.5,731.6L1068.0,731.8L1068.5,732.0L1069.0,732.2L1069.5,732.4L1070.0,732.5L1070.5,732.5L1071.0,732.4L1071.5,732.3L1072.0,732.0L1072.5,731.7L1073.0,731.3L1073.5,730.9L1074.0,730.5L1074.5,730.0L1075.0,729.4L1075.5,728.6L1076.0,727.8L1076.5,727.0L1077.0,726.2L1077.5,725.5L1078.0,724.8L1078.5,724.0L1079.0,723.3L1079.5,722.6L1080.0,721.9L1080.5,721.4L1081.0,721.0L1081.5,720.7L1082.0,720.4L1082.5,720.1L1083.0,719.9L1083.5,719.7L1084.0,719.6L1084.5,719.6L1085.0,719.7L1085.5,719.8L1086.0,720.0L1086.5,720.2L1087.0,720.5L1087.5,720.7L1088.0,721.0L1088.5,721.3L1089.0,721.6L1089.5,722.0L1090.0,722.5L1090.5,723.0L1091.0,723.5L1091.5,724.0L1092.0,724.5L1092.5,725.0L1093.0,725.5L1093.5,726.0L1094.0,726.6L1094.5,727.2L1095.0,727.8L1095.5,728.3L1096.0,728.9L1096.5,729.4L1097.0,729.8L1097.5,730.2L1098.0,730.6L1098.5,731.0L1099.0,731.3L1099.5,731.6L1100.0,731.9L1100.5,732.1L1101.0,732.2L1101.5,732.3L1102.0,732.3L1102.5,732.3L1103.0,732.4L1103.5,732.4L1104.0,732.4L1104.5,732.5L1105.0,732.5L1105.5,732.5L1106.0,732.5L1106.5,732.5L1107.0,732.4L1107.5,732.3L1108.0,732.2L1108.5,732.1L1109.0,732.0L1109.5,731.9L1110.0,731.8L1110.5,731.7L1111.0,731.6L1111.5,731.5L1112.0,731.5L1112.5,731.6L1113.0,731.8L1113.5,732.0L1114.0,732.4L1114.5,732.7L1115.0,733.0L1115.5,733.3L1116.0,733.7L1116.5,734.1L1117.0,734.5L1117.5,734.9L1118.0,735.2L1118.5,735.5L1119.0,735.7L1119.5,735.9L1120.0,736.0L1120.5,736.2L1121.0,736.3L1121.5,736.4L1122.0,736.6L1122.5,736.7L1123.0,736.8L1123.5,736.8L1124.0,736.9L1124.5,737.0L1125.0,737.0L1125.5,737.0L1126.0,737.0L1126.5,736.8L1127.0,736.6L1127.5,736.4L1128.0,736.1L1128.5,735.8L1129.0,735.5L1129.5,735.1L1130.0,734.5L1130.5,733.8L1131.0,733.1L1131.5,732.3L1132.0,731.5L1132.5,730.7L1133.0,730.0L1133.5,729.3L1134.0,728.7L1134.5,728.0L1135.0,727.3L1135.5,726.7L1136.0,726.0L1136.5,725.5L1137.0,725.0L1137.5,724.5L1138.0,724.1L1138.5,723.6L1139.0,723.3L1139.5,723.0L1140.0,722.8L1140.5,722.7L1141.0,722.6L1141.5,722.6L1142.0,722.5L1142.5,722.5L1143.0,722.6L1143.5,722.8L1144.0,723.1L1144.5,723.5L1145.0,723.8L1145.5,724.2L1146.0,724.5L1146.5,724.8L1147.0,725.1L1147.5,725.4L1148.0,725.6L1148.5,725.9L1149.0,726.1L1149.5,726.3L1150.0,726.5L1150.5,726.5L1151.0,726.5L1151.5,726.4L1152.0,726.2L1152.5,726.0L1153.0,725.8L1153.5,725.7L1154.0,725.5L1154.5,725.3L1155.0,725.2L1155.5,725.0L1156.0,724.8L1156.5,724.6L1157.0,724.5L1157.5,724.4L1158.0,724.3L1158.5,724.3L1159.0,724.2L1159.5,724.2L1160.0,724.1L1160.5,724.1L1161.0,724.1L1161.5,724.0L1162.0,724.0L1162.5,724.0L1163.0,724.0L1163.5,724.0L1164.0,724.0L1164.5,724.1L1165.0,724.1L1165.5,724.2L1166.0,724.3L1166.5,724.4L1167.0,724.5L1167.5,724.6L1168.0,724.6L1168.5,724.7L1169.0,724.8L1169.5,724.9L1170.0,724.9L1170.5,725.0L1171.0,725.1L1171.5,725.1L1172.0,725.2L1172.5,725.2L1173.0,725.3L1173.5,725.4L1174.0,725.5L1174.5,725.6L1175.0,725.7L1175.5,725.9L1176.0,726.1L1176.5,726.3L1177.0,726.6L1177.5,726.9L1178.0,727.3L1178.5,727.6L1179.0,727.9L1179.5,728.2L1180.0,728.5L1180.5,728.8L1181.0,729.0L1181.5,729.3L1182.0,729.5L1182.5,729.8L1183.0,730.0L1183.5,730.1L1184.0,730.3L1184.5,730.4L1185.0,730.5L1185.5,730.6L1186.0,730.7L1186.5,730.8L1187.0,730.9L1187.5,731.0L1188.0,731.0L1188.5,731.1L1189.0,731.2L1189.5,731.3L1190.0,731.4L1190.5,731.4L1191.0,731.5L1191.5,731.6L1192.0,731.6L1192.5,731.7L1193.0,731.8L1193.5,731.9L1194.0,732.0L1194.5,732.1L1195.0,732.3L1195.5,732.5L1196.0,732.7L1196.5,732.9L1197.0,733.2L1197.5,733.4L1198.0,733.6L1198.5,733.7L1199.0,733.9L1199.5,734.0L1200.0,734.0L1200.5,734.0L1201.0,733.8L1201.5,733.7L1202.0,733.5L1202.5,733.2L1203.0,733.0L1203.5,732.7L1204.0,732.5L1204.5,732.3L1205.0,732.0L1205.5,731.7L1206.0,731.5L1206.5,731.2L1207.0,730.9L1207.5,730.6L1208.0,730.4L1208.5,730.2L1209.0,730.0L1209.5,729.9L1210.0,729.7L1210.5,729.6L1211.0,729.5L1211.5,729.4L1212.0,729.3L1212.5,729.3L1213.0,729.2L1213.5,729.1L1214.0,729.0L1214.5,728.9L1215.0,728.8L1215.5,728.7L1216.0,728.6L1216.5,728.5L1217.0,728.3L1217.5,728.2L1218.0,728.1L1218.5,728.0L1219.0,727.9L1219.5,727.8L1220.0,727.6L1220.5,727.5L1221.0,727.4L1221.5,727.3L1222.0,727.2L1222.5,727.1L1223.0,727.0L1223.5,726.9L1224.0,726.7L1224.5,726.6L1225.0,726.5L1225.5,726.4L1226.0,726.3L1226.5,726.1L1227.0,726.0L1227.5,726.0L1228.0,725.9L1228.5,725.8L1229.0,725.8L1229.5,725.8L1230.0,725.8L1230.5,725.9L1231.0,726.0L1231.5,726.1L1232.0,726.3L1232.5,726.5L1233.0,726.6L1233.5,726.8L1234.0,727.0L1234.5,727.2L1235.0,727.4L1235.5,727.7L1236.0,728.0L1236.5,728.3L1237.0,728.6L1237.5,728.9L1238.0,729.1L1238.5,729.4L1239.0,729.5L1239.5,729.7L1240.0,729.7L1240.5,729.6L1241.0,729.5L1241.5,729.2L1242.0,728.9L1242.5,728.5L1243.0,728.2L1243.5,727.8L1244.0,727.5L1244.5,727.2L1245.0,726.8L1245.5,726.3L1246.0,725.9L1246.5,725.4L1247.0,725.0L1247.5,724.7L1248.0,724.3L1248.5,724.1L1249.0,724.0L1249.5,724.0L1250.0,724.2L1250.5,724.4L1251.0,724.7L1251.5,725.1L1252.0,725.5L1252.5,725.9L1253.0,726.3L1253.5,726.7L1254.0,727.0L1254.5,727.3L1255.0,727.6L1255.5,727.9L1256.0,728.3L1256.5,728.6L1257.0,728.9L1257.5,729.2L1258.0,729.5L1258.5,729.7L1259.0,729.9L1259.5,730.0L1260.0,730.0L1260.5,730.0L1261.0,729.9L1261.5,729.9L1262.0,729.8L1262.5,729.6L1263.0,729.5L1263.5,729.4L1264.0,729.3L1264.5,729.1L1265.0,729.0L1265.5,728.9L1266.0,728.7L1266.5,728.5L1267.0,728.4L1267.5,728.2L1268.0,728.0L1268.5,727.8L1269.0,727.7L1269.5,727.6L1270.0,727.5L1270.5,727.5L1271.0,727.6L1271.5,727.8L1272.0,728.2L1272.5,728.6L1273.0,729.1L1273.5,729.5L1274.0,730.0L1274.5,730.5L1275.0,731.0L1275.5,731.6L1276.0,732.2L1276.5,732.9L1277.0,733.5L1277.5,734.0L1278.0,734.5L1278.5,735.0L1279.0,735.4L1279.5,735.8L1280.0,736.3L1280.5,736.6L1281.0,737.0L1281.5,737.3L1282.0,737.5L1282.5,737.7L1283.0,737.9L1283.5,738.0L1284.0,738.2L1284.5,738.3L1285.0,738.4L1285.5,738.5L1286.0,738.5L1286.5,738.4L1287.0,738.3L1287.5,738.0L1288.0,737.6L1288.5,737.2L1289.0,736.8L1289.5,736.4L1290.0,736.0L1290.5,735.5L1291.0,735.0L1291.5,734.4L1292.0,733.8L1292.5,733.3L1293.0,733.0L1293.5,732.8L1294.0,732.5L1294.5,732.3L1295.0,732.1L1295.5,732.0L1296.0,732.0L1296.5,732.0L1297.0,732.2L1297.5,732.4L1298.0,732.7L1298.5,733.0L1299.0,733.3L1299.5,733.7L1300.0,734.0L1300.5,734.4L1301.0,734.8L1301.5,735.4L1302.0,735.9L1302.5,736.5L1303.0,737.0L1303.5,737.5L1304.0,738.0L1304.5,738.4L1305.0,738.9L1305.5,739.4L1306.0,739.7L1306.5,740.0L1307.0,740.2L1307.5,740.3L1308.0,740.3L1308.5,740.4L1309.0,740.4L1309.5,740.5L1310.0,740.5L1310.5,740.5L1311.0,740.6L1311.5,740.6L1312.0,740.6L1312.5,740.7L1313.0,740.7L1313.5,740.7L1314.0,740.8L1314.5,740.9L1315.0,740.9L1315.5,741.0L1316.0,741.1L1316.5,741.1L1317.0,741.2L1317.5,741.3L1318.0,741.3L1318.5,741.4L1319.0,741.4L1319.5,741.4L1320.0,741.5L1320.5,741.5L1321.0,741.5L1321.5,741.4L1322.0,741.2L1322.5,740.8L1323.0,740.4L1323.5,739.9L1324.0,739.4L1324.5,738.9L1325.0,738.5L1325.5,738.1L1326.0,737.6L1326.5,737.1L1327.0,736.6L1327.5,736.1L1328.0,735.6L1328.5,735.3L1329.0,735.0L1329.5,734.8L1330.0,734.6L1330.5,734.4L1331.0,734.2L1331.5,734.0L1332.0,733.9L1332.5,733.8L1333.0,733.8L1333.5,733.8L1334.0,733.8L1334.5,733.8L1335.0,733.9L1335.5,734.0L1336.0,734.1L1336.5,734.2" stroke="#4daf4a"/>
</g>
<g stroke="#000" stroke-width="1.0">
<line x1="183.5" y1="848.0" x2="183.5" y2="852.6"/>
<line x1="375.5" y1="848.0" x2="375.5" y2="852.6"/>
<line x1="567.5" y1="848.0" x2="567.5" y2="852.6"/>
<line x1="759.5" y1="848.0" x2="759.5" y2="852.6"/>
<line x1="952.5" y1="848.0" x2="952.5" y2="852.6"/>
<line x1="1144.5" y1="848.0" x2="1144.5" y2="852.6"/>
<line x1="1336.5" y1="848.0" x2="1336.5" y2="852.6"/>
<line x1="183.0" y1="813.5" x2="178.4" y2="813.5"/>
<line x1="183.0" y1="706.5" x2="178.4" y2="706.5"/>
<line x1="183.0" y1="599.5" x2="178.4" y2="599.5"/>
<line x1="183.0" y1="492.5" x2="178.4" y2="492.5"/>
<line x1="183.0" y1="385.5" x2="178.4" y2="385.5"/>
<line x1="183.0" y1="279.5" x2="178.4" y2="279.5"/>
<line x1="183.0" y1="172.5" x2="178.4" y2="172.5"/>
</g>
<rect x="183.5" y="105.5" width="1153.0" height="742.0" fill="none" stroke="#000" stroke-width="1.0" shape-rendering="crispEdges"/>
<text class="tick" transform="translate(0,894.30) scale(1,1.025)" x="168.00" y="0">0</text>
<text class="tick" transform="translate(0,895.20) scale(1,1.025)" x="360.10" y="0">5</text>
<text class="tick" transform="translate(0,894.30) scale(1,1.025)" x="536.90 566.80" y="0">10</text>
<text class="tick" transform="translate(0,895.20) scale(1,1.025)" x="729.05 758.95" y="0">15</text>
<text class="tick" transform="translate(0,894.30) scale(1,1.025)" x="920.80 950.70" y="0">20</text>
<text class="tick" transform="translate(0,894.30) scale(1,1.025)" x="1113.20 1143.10" y="0">25</text>
<text class="tick" transform="translate(0,894.30) scale(1,1.025)" x="1306.10 1336.00" y="0">30</text>
<text class="tick" transform="translate(0,831.90) scale(1,1.025)" x="96.05 125.95 141.55" y="0">0.0</text>
<text class="tick" transform="translate(0,724.90) scale(1,1.025)" x="96.05 125.95 141.25" y="0">0.5</text>
<text class="tick" transform="translate(0,617.90) scale(1,1.025)" x="95.75 125.95 141.55" y="0">1.0</text>
<text class="tick" transform="translate(0,511.70) scale(1,1.025)" x="95.75 125.95 141.25" y="0">1.5</text>
<text class="tick" transform="translate(0,403.90) scale(1,1.025)" x="95.75 125.95 141.55" y="0">2.0</text>
<text class="tick" transform="translate(0,297.00) scale(1,1.025)" x="95.75 125.95 141.25" y="0">2.5</text>
<text class="tick" transform="translate(0,189.90) scale(1,1.025)" x="95.75 125.95 141.55" y="0">3.0</text>
<text class="off" x="182.65 201.10 220.15 239.75" y="100.8">1e15</text>
<text class="lab" x="587.00 623.88 660.88 696.88 720.86 757.86 792.36 810.86 833.61 869.61 909.48" y="954.9">Energy (eV)</text>
<text class="lab" x="0.00 45.88 83.00 105.88 122.12 154.25 190.00 206.25 224.75 256.88 292.62 329.62 366.62 403.62 435.75 458.62 474.88 509.38 525.62 548.50 583.00 601.50 624.25 664.84 700.84 736.59 752.84 771.34 808.47 844.22 868.22 891.09" y="0" transform="translate(76.9,933.8) rotate(-90)">Optical conductivity (Real part)</text>
<rect x="1148.5" y="123.5" width="170" height="175" rx="5.5" ry="5.5" fill="#ffffff" fill-opacity="0.8" stroke="#cccccc" stroke-opacity="0.8" stroke-width="1.39"/>
<line x1="1161.1" y1="152.4" x2="1235.9" y2="152.4" stroke="#e41a1c" stroke-width="2.78"/>
<line x1="1161.1" y1="205.3" x2="1235.9" y2="205.3" stroke="#377eb8" stroke-width="2.78"/>
<line x1="1161.1" y1="263.3" x2="1235.9" y2="263.3" stroke="#4daf4a" stroke-width="2.78"/>
<text class="leg" transform="translate(1263.9,163.8) scale(1.03,1)" x="0" y="0">σ<tspan class="sub" dy="5.8">x</tspan></text>
<text class="leg" transform="translate(1263.9,215.7) scale(1.03,1)" x="0" y="0">σ<tspan class="sub" dy="5.8">y</tspan></text>
<text class="leg" transform="translate(1263.9,276.0) scale(1.03,1)" x="0" y="0">σ<tspan class="sub" dy="5.8">z</tspan></text>
</svg>
</body></html>
